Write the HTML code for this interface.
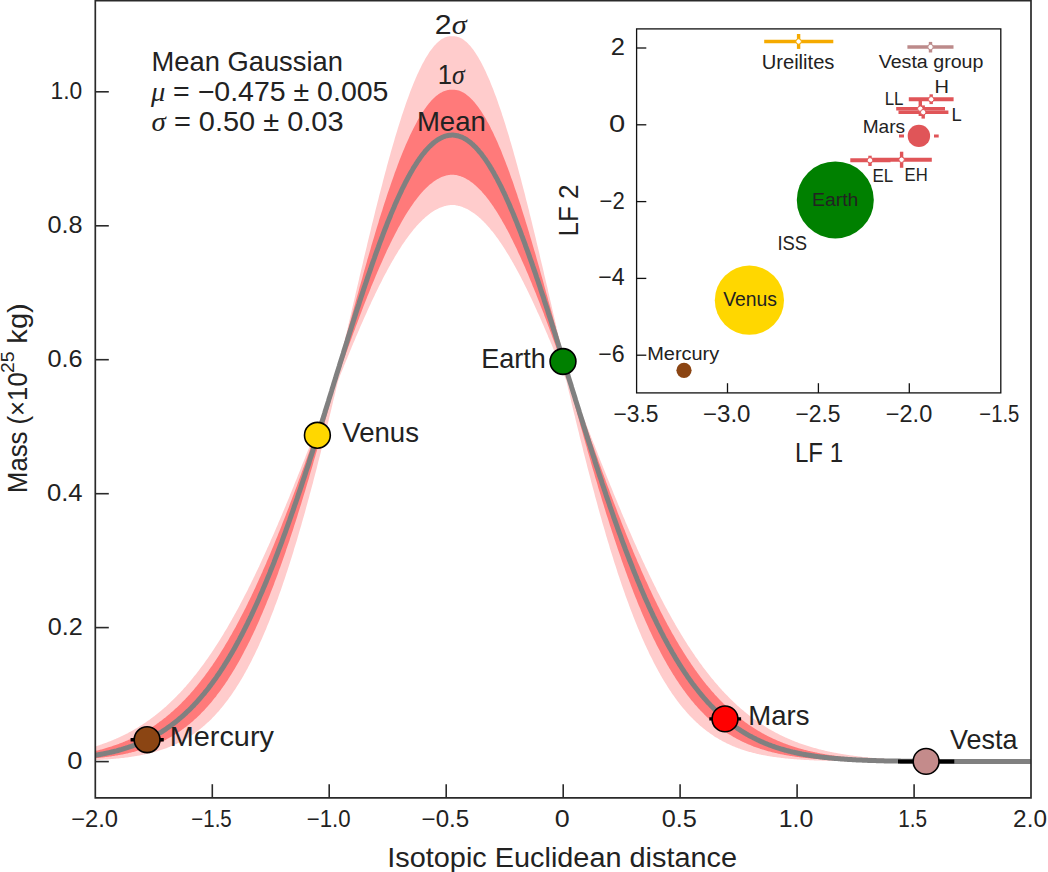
<!DOCTYPE html>
<html><head><meta charset="utf-8"><style>
html,body{margin:0;padding:0;background:#fff;width:1048px;height:872px;overflow:hidden}
svg text{font-family:"Liberation Sans", sans-serif}
</style></head><body>
<svg width="1048" height="872" viewBox="0 0 1048 872" style="display:block">
<rect width="1048" height="872" fill="#fff"/>
<defs><clipPath id="c"><rect x="95.3" y="0" width="935.7" height="797.7"/></clipPath></defs>
<g clip-path="url(#c)">
<path d="M95.3,746.4 L96.1,746.2 L96.9,745.9 L97.6,745.7 L98.4,745.4 L99.2,745.2 L100.0,744.9 L100.8,744.6 L101.5,744.4 L102.3,744.1 L103.1,743.8 L103.9,743.5 L104.7,743.3 L105.4,743.0 L106.2,742.7 L107.0,742.4 L107.8,742.1 L108.6,741.8 L109.3,741.5 L110.1,741.2 L110.9,740.9 L111.7,740.6 L112.5,740.3 L113.2,739.9 L114.0,739.6 L114.8,739.3 L115.6,738.9 L116.4,738.6 L117.1,738.3 L117.9,737.9 L118.7,737.6 L119.5,737.2 L120.3,736.8 L121.0,736.5 L121.8,736.1 L122.6,735.7 L123.4,735.3 L124.2,735.0 L124.9,734.6 L125.7,734.2 L126.5,733.8 L127.3,733.4 L128.1,733.0 L128.8,732.6 L129.6,732.1 L130.4,731.7 L131.2,731.3 L131.9,730.9 L132.7,730.4 L133.5,730.0 L134.3,729.5 L135.1,729.1 L135.8,728.6 L136.6,728.2 L137.4,727.7 L138.2,727.2 L139.0,726.7 L139.7,726.2 L140.5,725.7 L141.3,725.3 L142.1,724.7 L142.9,724.2 L143.6,723.7 L144.4,723.2 L145.2,722.7 L146.0,722.2 L146.8,721.6 L147.5,721.1 L148.3,720.5 L149.1,720.0 L149.9,719.4 L150.7,718.8 L151.4,718.3 L152.2,717.7 L153.0,717.1 L153.8,716.5 L154.6,715.9 L155.3,715.3 L156.1,714.7 L156.9,714.1 L157.7,713.5 L158.5,712.8 L159.2,712.2 L160.0,711.5 L160.8,710.9 L161.6,710.2 L162.4,709.6 L163.1,708.9 L163.9,708.2 L164.7,707.5 L165.5,706.9 L166.3,706.2 L167.0,705.5 L167.8,704.7 L168.6,704.0 L169.4,703.3 L170.2,702.6 L170.9,701.8 L171.7,701.1 L172.5,700.3 L173.3,699.6 L174.1,698.8 L174.8,698.0 L175.6,697.2 L176.4,696.4 L177.2,695.6 L178.0,694.8 L178.7,694.0 L179.5,693.2 L180.3,692.4 L181.1,691.5 L181.9,690.7 L182.6,689.9 L183.4,689.0 L184.2,688.1 L185.0,687.3 L185.8,686.4 L186.5,685.5 L187.3,684.6 L188.1,683.7 L188.9,682.8 L189.7,681.8 L190.4,680.9 L191.2,680.0 L192.0,679.0 L192.8,678.1 L193.6,677.1 L194.3,676.1 L195.1,675.2 L195.9,674.2 L196.7,673.2 L197.4,672.2 L198.2,671.2 L199.0,670.2 L199.8,669.1 L200.6,668.1 L201.3,667.1 L202.1,666.0 L202.9,664.9 L203.7,663.9 L204.5,662.8 L205.2,661.7 L206.0,660.6 L206.8,659.5 L207.6,658.4 L208.4,657.3 L209.1,656.2 L209.9,655.0 L210.7,653.9 L211.5,652.7 L212.3,651.6 L213.0,650.4 L213.8,649.2 L214.6,648.0 L215.4,646.8 L216.2,645.6 L216.9,644.4 L217.7,643.2 L218.5,642.0 L219.3,640.7 L220.1,639.5 L220.8,638.2 L221.6,637.0 L222.4,635.7 L223.2,634.4 L224.0,633.1 L224.7,631.8 L225.5,630.5 L226.3,629.2 L227.1,627.9 L227.9,626.5 L228.6,625.2 L229.4,623.8 L230.2,622.5 L231.0,621.1 L231.8,619.7 L232.5,618.3 L233.3,617.0 L234.1,615.6 L234.9,614.1 L235.7,612.7 L236.4,611.3 L237.2,609.9 L238.0,608.4 L238.8,607.0 L239.6,605.5 L240.3,604.0 L241.1,602.6 L241.9,601.1 L242.7,599.6 L243.5,598.1 L244.2,596.6 L245.0,595.0 L245.8,593.5 L246.6,592.0 L247.4,590.4 L248.1,588.9 L248.9,587.3 L249.7,585.8 L250.5,584.2 L251.3,582.6 L252.0,581.0 L252.8,579.4 L253.6,577.8 L254.4,576.2 L255.2,574.6 L255.9,572.9 L256.7,571.3 L257.5,569.7 L258.3,568.0 L259.1,566.4 L259.8,564.7 L260.6,563.0 L261.4,561.3 L262.2,559.6 L262.9,557.9 L263.7,556.2 L264.5,554.5 L265.3,552.8 L266.1,551.1 L266.8,549.4 L267.6,547.6 L268.4,545.9 L269.2,544.1 L270.0,542.4 L270.7,540.6 L271.5,538.8 L272.3,537.1 L273.1,535.3 L273.9,533.5 L274.6,531.7 L275.4,529.9 L276.2,528.1 L277.0,526.3 L277.8,524.4 L278.5,522.6 L279.3,520.8 L280.1,518.9 L280.9,517.1 L281.7,515.2 L282.4,513.4 L283.2,511.5 L284.0,509.7 L284.8,507.8 L285.6,505.9 L286.3,504.0 L287.1,502.2 L287.9,500.3 L288.7,498.4 L289.5,496.5 L290.2,494.6 L291.0,492.7 L291.8,490.8 L292.6,488.8 L293.4,486.9 L294.1,485.0 L294.9,483.1 L295.7,481.1 L296.5,479.2 L297.3,477.3 L298.0,475.3 L298.8,473.4 L299.6,471.4 L300.4,469.5 L301.2,467.5 L301.9,465.6 L302.7,463.6 L303.5,461.7 L304.3,459.7 L305.1,457.7 L305.8,455.8 L306.6,453.8 L307.4,451.8 L308.2,449.8 L309.0,447.9 L309.7,445.9 L310.5,443.9 L311.3,441.9 L312.1,439.9 L312.9,438.0 L313.6,436.0 L314.4,434.0 L315.2,432.0 L316.0,430.0 L316.8,428.0 L317.5,426.0 L318.3,424.1 L319.1,422.1 L319.9,420.0 L320.7,418.0 L321.4,415.9 L322.2,413.8 L323.0,411.7 L323.8,409.6 L324.6,407.4 L325.3,405.2 L326.1,403.0 L326.9,400.7 L327.7,398.4 L328.5,396.1 L329.2,393.8 L330.0,391.4 L330.8,389.0 L331.6,386.6 L332.3,384.1 L333.1,381.6 L333.9,379.1 L334.7,376.5 L335.5,373.9 L336.2,371.2 L337.0,368.6 L337.8,365.9 L338.6,363.1 L339.4,360.3 L340.1,357.5 L340.9,354.6 L341.7,351.7 L342.5,348.8 L343.3,345.8 L344.0,342.8 L344.8,339.7 L345.6,336.5 L346.4,333.4 L347.2,330.2 L347.9,326.9 L348.7,323.6 L349.5,320.2 L350.3,316.8 L351.1,313.5 L351.8,310.1 L352.6,306.7 L353.4,303.3 L354.2,300.0 L355.0,296.6 L355.7,293.3 L356.5,289.9 L357.3,286.5 L358.1,283.2 L358.9,279.8 L359.6,276.5 L360.4,273.2 L361.2,269.8 L362.0,266.5 L362.8,263.2 L363.5,259.9 L364.3,256.6 L365.1,253.3 L365.9,250.0 L366.7,246.8 L367.4,243.5 L368.2,240.2 L369.0,237.0 L369.8,233.8 L370.6,230.5 L371.3,227.3 L372.1,224.1 L372.9,220.9 L373.7,217.8 L374.5,214.6 L375.2,211.5 L376.0,208.3 L376.8,205.2 L377.6,202.1 L378.4,199.0 L379.1,196.0 L379.9,192.9 L380.7,189.9 L381.5,186.9 L382.3,183.9 L383.0,180.9 L383.8,177.9 L384.6,175.0 L385.4,172.1 L386.2,169.2 L386.9,166.3 L387.7,163.4 L388.5,160.6 L389.3,157.8 L390.1,155.0 L390.8,152.2 L391.6,149.5 L392.4,146.8 L393.2,144.1 L394.0,141.4 L394.7,138.7 L395.5,136.1 L396.3,133.5 L397.1,130.9 L397.8,128.4 L398.6,125.9 L399.4,123.4 L400.2,120.9 L401.0,118.5 L401.7,116.1 L402.5,113.7 L403.3,111.4 L404.1,109.0 L404.9,106.8 L405.6,104.5 L406.4,102.3 L407.2,100.1 L408.0,97.9 L408.8,95.8 L409.5,93.7 L410.3,91.6 L411.1,89.6 L411.9,87.6 L412.7,85.6 L413.4,83.7 L414.2,81.8 L415.0,80.0 L415.8,78.1 L416.6,76.3 L417.3,74.6 L418.1,72.9 L418.9,71.2 L419.7,69.5 L420.5,67.9 L421.2,66.4 L422.0,64.8 L422.8,63.3 L423.6,61.9 L424.4,60.5 L425.1,59.1 L425.9,57.7 L426.7,56.4 L427.5,55.2 L428.3,53.9 L429.0,52.7 L429.8,51.6 L430.6,50.5 L431.4,49.4 L432.2,48.4 L432.9,47.4 L433.7,46.5 L434.5,45.6 L435.3,44.7 L436.1,43.9 L436.8,43.1 L437.6,42.4 L438.4,41.7 L439.2,41.0 L440.0,40.4 L440.7,39.8 L441.5,39.3 L442.3,38.8 L443.1,38.4 L443.9,37.9 L444.6,37.6 L445.4,37.3 L446.2,37.0 L447.0,36.8 L447.8,36.6 L448.5,36.4 L449.3,36.3 L450.1,36.2 L450.9,36.2 L451.7,36.2 L452.4,36.2 L453.2,36.2 L454.0,36.2 L454.8,36.3 L455.6,36.4 L456.3,36.5 L457.1,36.7 L457.9,36.9 L458.7,37.2 L459.5,37.5 L460.2,37.8 L461.0,38.2 L461.8,38.6 L462.6,39.1 L463.3,39.6 L464.1,40.2 L464.9,40.8 L465.7,41.4 L466.5,42.1 L467.2,42.8 L468.0,43.6 L468.8,44.4 L469.6,45.2 L470.4,46.1 L471.1,47.0 L471.9,48.0 L472.7,49.0 L473.5,50.1 L474.3,51.2 L475.0,52.3 L475.8,53.5 L476.6,54.7 L477.4,55.9 L478.2,57.2 L478.9,58.6 L479.7,59.9 L480.5,61.3 L481.3,62.8 L482.1,64.3 L482.8,65.8 L483.6,67.3 L484.4,68.9 L485.2,70.6 L486.0,72.2 L486.7,73.9 L487.5,75.7 L488.3,77.5 L489.1,79.3 L489.9,81.1 L490.6,83.0 L491.4,84.9 L492.2,86.9 L493.0,88.8 L493.8,90.9 L494.5,92.9 L495.3,95.0 L496.1,97.1 L496.9,99.3 L497.7,101.5 L498.4,103.7 L499.2,105.9 L500.0,108.2 L500.8,110.5 L501.6,112.8 L502.3,115.2 L503.1,117.6 L503.9,120.0 L504.7,122.5 L505.5,124.9 L506.2,127.4 L507.0,130.0 L507.8,132.5 L508.6,135.1 L509.4,137.7 L510.1,140.4 L510.9,143.0 L511.7,145.7 L512.5,148.4 L513.3,151.2 L514.0,153.9 L514.8,156.7 L515.6,159.5 L516.4,162.4 L517.2,165.2 L517.9,168.1 L518.7,171.0 L519.5,173.9 L520.3,176.8 L521.1,179.8 L521.8,182.8 L522.6,185.7 L523.4,188.8 L524.2,191.8 L525.0,194.8 L525.7,197.9 L526.5,201.0 L527.3,204.1 L528.1,207.2 L528.9,210.3 L529.6,213.4 L530.4,216.6 L531.2,219.8 L532.0,222.9 L532.7,226.1 L533.5,229.3 L534.3,232.5 L535.1,235.8 L535.9,239.0 L536.6,242.3 L537.4,245.5 L538.2,248.8 L539.0,252.1 L539.8,255.4 L540.5,258.7 L541.3,262.0 L542.1,265.3 L542.9,268.6 L543.7,271.9 L544.4,275.2 L545.2,278.6 L546.0,281.9 L546.8,285.3 L547.6,288.6 L548.3,292.0 L549.1,295.3 L549.9,298.7 L550.7,302.1 L551.5,305.4 L552.2,308.8 L553.0,312.2 L553.8,315.6 L554.6,318.9 L555.4,322.3 L556.1,325.6 L556.9,328.9 L557.7,332.2 L558.5,335.4 L559.3,338.5 L560.0,341.6 L560.8,344.6 L561.6,347.7 L562.4,350.6 L563.2,353.5 L563.9,356.4 L564.7,359.3 L565.5,362.1 L566.3,364.8 L567.1,367.6 L567.8,370.2 L568.6,372.9 L569.4,375.5 L570.2,378.1 L571.0,380.6 L571.7,383.1 L572.5,385.6 L573.3,388.1 L574.1,390.5 L574.9,392.9 L575.6,395.2 L576.4,397.6 L577.2,399.9 L578.0,402.1 L578.8,404.4 L579.5,406.6 L580.3,408.7 L581.1,410.9 L581.9,413.0 L582.7,415.1 L583.4,417.2 L584.2,419.3 L585.0,421.3 L585.8,423.3 L586.6,425.3 L587.3,427.3 L588.1,429.3 L588.9,431.3 L589.7,433.2 L590.5,435.2 L591.2,437.2 L592.0,439.2 L592.8,441.2 L593.6,443.2 L594.4,445.1 L595.1,447.1 L595.9,449.1 L596.7,451.1 L597.5,453.0 L598.2,455.0 L599.0,457.0 L599.8,459.0 L600.6,460.9 L601.4,462.9 L602.1,464.8 L602.9,466.8 L603.7,468.8 L604.5,470.7 L605.3,472.7 L606.0,474.6 L606.8,476.5 L607.6,478.5 L608.4,480.4 L609.2,482.3 L609.9,484.3 L610.7,486.2 L611.5,488.1 L612.3,490.0 L613.1,492.0 L613.8,493.9 L614.6,495.8 L615.4,497.7 L616.2,499.6 L617.0,501.5 L617.7,503.3 L618.5,505.2 L619.3,507.1 L620.1,509.0 L620.9,510.8 L621.6,512.7 L622.4,514.6 L623.2,516.4 L624.0,518.2 L624.8,520.1 L625.5,521.9 L626.3,523.7 L627.1,525.6 L627.9,527.4 L628.7,529.2 L629.4,531.0 L630.2,532.8 L631.0,534.6 L631.8,536.4 L632.6,538.2 L633.3,539.9 L634.1,541.7 L634.9,543.5 L635.7,545.2 L636.5,547.0 L637.2,548.7 L638.0,550.4 L638.8,552.2 L639.6,553.9 L640.4,555.6 L641.1,557.3 L641.9,559.0 L642.7,560.7 L643.5,562.4 L644.3,564.1 L645.0,565.7 L645.8,567.4 L646.6,569.0 L647.4,570.7 L648.2,572.3 L648.9,574.0 L649.7,575.6 L650.5,577.2 L651.3,578.8 L652.1,580.4 L652.8,582.0 L653.6,583.6 L654.4,585.2 L655.2,586.7 L656.0,588.3 L656.7,589.9 L657.5,591.4 L658.3,592.9 L659.1,594.5 L659.9,596.0 L660.6,597.5 L661.4,599.0 L662.2,600.5 L663.0,602.0 L663.7,603.5 L664.5,604.9 L665.3,606.4 L666.1,607.9 L666.9,609.3 L667.6,610.8 L668.4,612.2 L669.2,613.6 L670.0,615.0 L670.8,616.4 L671.5,617.8 L672.3,619.2 L673.1,620.6 L673.9,622.0 L674.7,623.3 L675.4,624.7 L676.2,626.0 L677.0,627.4 L677.8,628.7 L678.6,630.0 L679.3,631.3 L680.1,632.6 L680.9,633.9 L681.7,635.2 L682.5,636.5 L683.2,637.7 L684.0,639.0 L684.8,640.3 L685.6,641.5 L686.4,642.7 L687.1,644.0 L687.9,645.2 L688.7,646.4 L689.5,647.6 L690.3,648.8 L691.0,649.9 L691.8,651.1 L692.6,652.3 L693.4,653.4 L694.2,654.6 L694.9,655.7 L695.7,656.9 L696.5,658.0 L697.3,659.1 L698.1,660.2 L698.8,661.3 L699.6,662.4 L700.4,663.5 L701.2,664.5 L702.0,665.6 L702.7,666.7 L703.5,667.7 L704.3,668.7 L705.1,669.8 L705.9,670.8 L706.6,671.8 L707.4,672.8 L708.2,673.8 L709.0,674.8 L709.8,675.8 L710.5,676.8 L711.3,677.7 L712.1,678.7 L712.9,679.6 L713.7,680.6 L714.4,681.5 L715.2,682.4 L716.0,683.3 L716.8,684.2 L717.6,685.1 L718.3,686.0 L719.1,686.9 L719.9,687.8 L720.7,688.7 L721.5,689.5 L722.2,690.4 L723.0,691.2 L723.8,692.1 L724.6,692.9 L725.4,693.7 L726.1,694.5 L726.9,695.3 L727.7,696.1 L728.5,696.9 L729.3,697.7 L730.0,698.5 L730.8,699.3 L731.6,700.0 L732.4,700.8 L733.1,701.5 L733.9,702.3 L734.7,703.0 L735.5,703.8 L736.3,704.5 L737.0,705.2 L737.8,705.9 L738.6,706.6 L739.4,707.3 L740.2,708.0 L740.9,708.7 L741.7,709.3 L742.5,710.0 L743.3,710.6 L744.1,711.3 L744.8,711.9 L745.6,712.6 L746.4,713.2 L747.2,713.8 L748.0,714.5 L748.7,715.1 L749.5,715.7 L750.3,716.3 L751.1,716.9 L751.9,717.5 L752.6,718.0 L753.4,718.6 L754.2,719.2 L755.0,719.8 L755.8,720.3 L756.5,720.9 L757.3,721.4 L758.1,721.9 L758.9,722.5 L759.7,723.0 L760.4,723.5 L761.2,724.0 L762.0,724.6 L762.8,725.1 L763.6,725.6 L764.3,726.1 L765.1,726.5 L765.9,727.0 L766.7,727.5 L767.5,728.0 L768.2,728.4 L769.0,728.9 L769.8,729.4 L770.6,729.8 L771.4,730.3 L772.1,730.7 L772.9,731.1 L773.7,731.6 L774.5,732.0 L775.3,732.4 L776.0,732.8 L776.8,733.2 L777.6,733.6 L778.4,734.0 L779.2,734.4 L779.9,734.8 L780.7,735.2 L781.5,735.6 L782.3,736.0 L783.1,736.3 L783.8,736.7 L784.6,737.1 L785.4,737.4 L786.2,737.8 L787.0,738.1 L787.7,738.5 L788.5,738.8 L789.3,739.1 L790.1,739.5 L790.9,739.8 L791.6,740.1 L792.4,740.5 L793.2,740.8 L794.0,741.1 L794.8,741.4 L795.5,741.7 L796.3,742.0 L797.1,742.3 L797.9,742.6 L798.6,742.9 L799.4,743.2 L800.2,743.4 L801.0,743.7 L801.8,744.0 L802.5,744.3 L803.3,744.5 L804.1,744.8 L804.9,745.1 L805.7,745.3 L806.4,745.6 L807.2,745.8 L808.0,746.1 L808.8,746.3 L809.6,746.5 L810.3,746.8 L811.1,747.0 L811.9,747.2 L812.7,747.5 L813.5,747.7 L814.2,747.9 L815.0,748.1 L815.8,748.3 L816.6,748.6 L817.4,748.8 L818.1,749.0 L818.9,749.2 L819.7,749.4 L820.5,749.6 L821.3,749.8 L822.0,750.0 L822.8,750.1 L823.6,750.3 L824.4,750.5 L825.2,750.7 L825.9,750.9 L826.7,751.1 L827.5,751.2 L828.3,751.4 L829.1,751.6 L829.8,751.7 L830.6,751.9 L831.4,752.1 L832.2,752.2 L833.0,752.4 L833.7,752.5 L834.5,752.7 L835.3,752.8 L836.1,753.0 L836.9,753.1 L837.6,753.3 L838.4,753.4 L839.2,753.5 L840.0,753.7 L840.8,753.8 L841.5,754.0 L842.3,754.1 L843.1,754.2 L843.9,754.3 L844.7,754.5 L845.4,754.6 L846.2,754.7 L847.0,754.8 L847.8,754.9 L848.6,755.1 L849.3,755.2 L850.1,755.3 L850.9,755.4 L851.7,755.5 L852.5,755.6 L853.2,755.7 L854.0,755.8 L854.8,755.9 L855.6,756.0 L856.4,756.1 L857.1,756.2 L857.9,756.3 L858.7,756.4 L859.5,756.5 L860.3,756.6 L861.0,756.7 L861.8,756.8 L862.6,756.9 L863.4,756.9 L864.1,757.0 L864.9,757.1 L865.7,757.2 L866.5,757.3 L867.3,757.3 L868.0,757.4 L868.8,757.5 L869.6,757.6 L870.4,757.7 L871.2,757.7 L871.9,757.8 L872.7,757.9 L873.5,757.9 L874.3,758.0 L875.1,758.1 L875.8,758.1 L876.6,758.2 L877.4,758.3 L878.2,758.3 L879.0,758.4 L879.7,758.4 L880.5,758.5 L881.3,758.6 L882.1,758.6 L882.9,758.7 L883.6,758.7 L884.4,758.8 L885.2,758.8 L886.0,758.9 L886.8,758.9 L887.5,759.0 L888.3,759.0 L889.1,759.1 L889.9,759.1 L890.7,759.2 L891.4,759.2 L892.2,759.3 L893.0,759.3 L893.8,759.4 L894.6,759.4 L895.3,759.5 L896.1,759.5 L896.9,759.5 L897.7,759.6 L898.5,759.6 L899.2,759.7 L900.0,759.7 L900.8,759.7 L901.6,759.8 L902.4,759.8 L903.1,759.8 L903.9,759.9 L904.7,759.9 L905.5,759.9 L906.3,760.0 L907.0,760.0 L907.8,760.0 L908.6,760.1 L909.4,760.1 L910.2,760.1 L910.9,760.2 L911.7,760.2 L912.5,760.2 L913.3,760.2 L914.1,760.3 L914.8,760.3 L915.6,760.3 L916.4,760.4 L917.2,760.4 L918.0,760.4 L918.7,760.4 L919.5,760.5 L920.3,760.5 L921.1,760.5 L921.9,760.5 L922.6,760.5 L923.4,760.6 L924.2,760.6 L925.0,760.6 L925.8,760.6 L926.5,760.6 L927.3,760.7 L928.1,760.7 L928.9,760.7 L929.7,760.7 L930.4,760.7 L931.2,760.8 L932.0,760.8 L932.8,760.8 L933.5,760.8 L934.3,760.8 L935.1,760.8 L935.9,760.9 L936.7,760.9 L937.4,760.9 L938.2,760.9 L939.0,760.9 L939.8,760.9 L940.6,761.0 L941.3,761.0 L942.1,761.0 L942.9,761.0 L943.7,761.0 L944.5,761.0 L945.2,761.0 L946.0,761.0 L946.8,761.1 L947.6,761.1 L948.4,761.1 L949.1,761.1 L949.9,761.1 L950.7,761.1 L951.5,761.1 L952.3,761.1 L953.0,761.1 L953.8,761.2 L954.6,761.2 L955.4,761.2 L956.2,761.2 L956.9,761.2 L957.7,761.2 L958.5,761.2 L959.3,761.2 L960.1,761.2 L960.8,761.2 L961.6,761.2 L962.4,761.3 L963.2,761.3 L964.0,761.3 L964.7,761.3 L965.5,761.3 L966.3,761.3 L967.1,761.3 L967.9,761.3 L968.6,761.3 L969.4,761.3 L970.2,761.3 L971.0,761.3 L971.8,761.3 L972.5,761.3 L973.3,761.3 L974.1,761.4 L974.9,761.4 L975.7,761.4 L976.4,761.4 L977.2,761.4 L978.0,761.4 L978.8,761.4 L979.6,761.4 L980.3,761.4 L981.1,761.4 L981.9,761.4 L982.7,761.4 L983.5,761.4 L984.2,761.4 L985.0,761.4 L985.8,761.4 L986.6,761.4 L987.4,761.4 L988.1,761.4 L988.9,761.4 L989.7,761.4 L990.5,761.4 L991.3,761.5 L992.0,761.5 L992.8,761.5 L993.6,761.5 L994.4,761.5 L995.2,761.5 L995.9,761.5 L996.7,761.5 L997.5,761.5 L998.3,761.5 L999.0,761.5 L999.8,761.5 L1000.6,761.5 L1001.4,761.5 L1002.2,761.5 L1002.9,761.5 L1003.7,761.5 L1004.5,761.5 L1005.3,761.5 L1006.1,761.5 L1006.8,761.5 L1007.6,761.5 L1008.4,761.5 L1009.2,761.5 L1010.0,761.5 L1010.7,761.5 L1011.5,761.5 L1012.3,761.5 L1013.1,761.5 L1013.9,761.5 L1014.6,761.5 L1015.4,761.5 L1016.2,761.5 L1017.0,761.5 L1017.8,761.5 L1018.5,761.5 L1019.3,761.5 L1020.1,761.5 L1020.9,761.5 L1021.7,761.5 L1022.4,761.5 L1023.2,761.5 L1024.0,761.5 L1024.8,761.5 L1025.6,761.6 L1026.3,761.6 L1027.1,761.6 L1027.9,761.6 L1028.7,761.6 L1029.5,761.6 L1030.2,761.6 L1031.0,761.6 L1031.0,761.6 L1030.2,761.6 L1029.5,761.6 L1028.7,761.6 L1027.9,761.6 L1027.1,761.6 L1026.3,761.6 L1025.6,761.6 L1024.8,761.6 L1024.0,761.6 L1023.2,761.6 L1022.4,761.6 L1021.7,761.6 L1020.9,761.6 L1020.1,761.6 L1019.3,761.6 L1018.5,761.6 L1017.8,761.6 L1017.0,761.6 L1016.2,761.6 L1015.4,761.6 L1014.6,761.6 L1013.9,761.6 L1013.1,761.6 L1012.3,761.6 L1011.5,761.6 L1010.7,761.6 L1010.0,761.6 L1009.2,761.6 L1008.4,761.6 L1007.6,761.6 L1006.8,761.6 L1006.1,761.6 L1005.3,761.6 L1004.5,761.6 L1003.7,761.6 L1002.9,761.6 L1002.2,761.6 L1001.4,761.6 L1000.6,761.6 L999.8,761.6 L999.0,761.6 L998.3,761.6 L997.5,761.6 L996.7,761.6 L995.9,761.6 L995.2,761.6 L994.4,761.6 L993.6,761.6 L992.8,761.6 L992.0,761.6 L991.3,761.6 L990.5,761.6 L989.7,761.6 L988.9,761.6 L988.1,761.6 L987.4,761.6 L986.6,761.6 L985.8,761.6 L985.0,761.6 L984.2,761.6 L983.5,761.6 L982.7,761.6 L981.9,761.6 L981.1,761.6 L980.3,761.6 L979.6,761.6 L978.8,761.6 L978.0,761.6 L977.2,761.6 L976.4,761.6 L975.7,761.6 L974.9,761.6 L974.1,761.6 L973.3,761.6 L972.5,761.6 L971.8,761.6 L971.0,761.6 L970.2,761.6 L969.4,761.6 L968.6,761.6 L967.9,761.6 L967.1,761.6 L966.3,761.6 L965.5,761.6 L964.7,761.6 L964.0,761.6 L963.2,761.6 L962.4,761.6 L961.6,761.6 L960.8,761.6 L960.1,761.6 L959.3,761.6 L958.5,761.6 L957.7,761.6 L956.9,761.6 L956.2,761.6 L955.4,761.6 L954.6,761.6 L953.8,761.6 L953.0,761.6 L952.3,761.6 L951.5,761.6 L950.7,761.6 L949.9,761.6 L949.1,761.6 L948.4,761.6 L947.6,761.6 L946.8,761.6 L946.0,761.6 L945.2,761.6 L944.5,761.6 L943.7,761.6 L942.9,761.6 L942.1,761.6 L941.3,761.6 L940.6,761.6 L939.8,761.6 L939.0,761.6 L938.2,761.6 L937.4,761.6 L936.7,761.6 L935.9,761.6 L935.1,761.6 L934.3,761.6 L933.5,761.6 L932.8,761.6 L932.0,761.6 L931.2,761.6 L930.4,761.6 L929.7,761.6 L928.9,761.6 L928.1,761.6 L927.3,761.6 L926.5,761.6 L925.8,761.6 L925.0,761.6 L924.2,761.6 L923.4,761.6 L922.6,761.6 L921.9,761.6 L921.1,761.6 L920.3,761.6 L919.5,761.6 L918.7,761.6 L918.0,761.6 L917.2,761.6 L916.4,761.6 L915.6,761.6 L914.8,761.6 L914.1,761.6 L913.3,761.6 L912.5,761.6 L911.7,761.6 L910.9,761.6 L910.2,761.6 L909.4,761.6 L908.6,761.6 L907.8,761.6 L907.0,761.6 L906.3,761.6 L905.5,761.6 L904.7,761.6 L903.9,761.6 L903.1,761.6 L902.4,761.6 L901.6,761.6 L900.8,761.6 L900.0,761.6 L899.2,761.6 L898.5,761.6 L897.7,761.6 L896.9,761.6 L896.1,761.6 L895.3,761.5 L894.6,761.5 L893.8,761.5 L893.0,761.5 L892.2,761.5 L891.4,761.5 L890.7,761.5 L889.9,761.5 L889.1,761.5 L888.3,761.5 L887.5,761.5 L886.8,761.5 L886.0,761.5 L885.2,761.5 L884.4,761.5 L883.6,761.5 L882.9,761.5 L882.1,761.5 L881.3,761.5 L880.5,761.5 L879.7,761.5 L879.0,761.5 L878.2,761.5 L877.4,761.5 L876.6,761.5 L875.8,761.5 L875.1,761.5 L874.3,761.5 L873.5,761.5 L872.7,761.5 L871.9,761.5 L871.2,761.5 L870.4,761.5 L869.6,761.4 L868.8,761.4 L868.0,761.4 L867.3,761.4 L866.5,761.4 L865.7,761.4 L864.9,761.4 L864.1,761.4 L863.4,761.4 L862.6,761.4 L861.8,761.4 L861.0,761.4 L860.3,761.4 L859.5,761.4 L858.7,761.4 L857.9,761.4 L857.1,761.4 L856.4,761.3 L855.6,761.3 L854.8,761.3 L854.0,761.3 L853.2,761.3 L852.5,761.3 L851.7,761.3 L850.9,761.3 L850.1,761.3 L849.3,761.3 L848.6,761.3 L847.8,761.2 L847.0,761.2 L846.2,761.2 L845.4,761.2 L844.7,761.2 L843.9,761.2 L843.1,761.2 L842.3,761.2 L841.5,761.1 L840.8,761.1 L840.0,761.1 L839.2,761.1 L838.4,761.1 L837.6,761.1 L836.9,761.1 L836.1,761.0 L835.3,761.0 L834.5,761.0 L833.7,761.0 L833.0,761.0 L832.2,761.0 L831.4,760.9 L830.6,760.9 L829.8,760.9 L829.1,760.9 L828.3,760.9 L827.5,760.8 L826.7,760.8 L825.9,760.8 L825.2,760.8 L824.4,760.7 L823.6,760.7 L822.8,760.7 L822.0,760.7 L821.3,760.6 L820.5,760.6 L819.7,760.6 L818.9,760.6 L818.1,760.5 L817.4,760.5 L816.6,760.5 L815.8,760.4 L815.0,760.4 L814.2,760.4 L813.5,760.3 L812.7,760.3 L811.9,760.3 L811.1,760.2 L810.3,760.2 L809.6,760.2 L808.8,760.1 L808.0,760.1 L807.2,760.0 L806.4,760.0 L805.7,759.9 L804.9,759.9 L804.1,759.9 L803.3,759.8 L802.5,759.8 L801.8,759.7 L801.0,759.7 L800.2,759.6 L799.4,759.6 L798.6,759.5 L797.9,759.5 L797.1,759.4 L796.3,759.3 L795.5,759.3 L794.8,759.2 L794.0,759.2 L793.2,759.1 L792.4,759.0 L791.6,759.0 L790.9,758.9 L790.1,758.8 L789.3,758.7 L788.5,758.7 L787.7,758.6 L787.0,758.5 L786.2,758.4 L785.4,758.4 L784.6,758.3 L783.8,758.2 L783.1,758.1 L782.3,758.0 L781.5,757.9 L780.7,757.8 L779.9,757.7 L779.2,757.6 L778.4,757.5 L777.6,757.4 L776.8,757.3 L776.0,757.2 L775.3,757.1 L774.5,757.0 L773.7,756.9 L772.9,756.8 L772.1,756.7 L771.4,756.5 L770.6,756.4 L769.8,756.3 L769.0,756.2 L768.2,756.0 L767.5,755.9 L766.7,755.8 L765.9,755.6 L765.1,755.5 L764.3,755.3 L763.6,755.2 L762.8,755.0 L762.0,754.9 L761.2,754.7 L760.4,754.5 L759.7,754.4 L758.9,754.2 L758.1,754.0 L757.3,753.9 L756.5,753.7 L755.8,753.5 L755.0,753.3 L754.2,753.1 L753.4,752.9 L752.6,752.7 L751.9,752.5 L751.1,752.3 L750.3,752.1 L749.5,751.9 L748.7,751.7 L748.0,751.4 L747.2,751.2 L746.4,751.0 L745.6,750.7 L744.8,750.5 L744.1,750.2 L743.3,750.0 L742.5,749.7 L741.7,749.5 L740.9,749.2 L740.2,748.9 L739.4,748.6 L738.6,748.4 L737.8,748.1 L737.0,747.8 L736.3,747.5 L735.5,747.2 L734.7,746.8 L733.9,746.5 L733.1,746.2 L732.4,745.9 L731.6,745.5 L730.8,745.2 L730.0,744.8 L729.3,744.5 L728.5,744.1 L727.7,743.8 L726.9,743.4 L726.1,743.0 L725.4,742.6 L724.6,742.2 L723.8,741.8 L723.0,741.4 L722.2,741.0 L721.5,740.5 L720.7,740.1 L719.9,739.7 L719.1,739.2 L718.3,738.8 L717.6,738.3 L716.8,737.8 L716.0,737.4 L715.2,736.9 L714.4,736.4 L713.7,735.9 L712.9,735.3 L712.1,734.8 L711.3,734.3 L710.5,733.7 L709.8,733.2 L709.0,732.6 L708.2,732.1 L707.4,731.5 L706.6,730.9 L705.9,730.3 L705.1,729.7 L704.3,729.1 L703.5,728.5 L702.7,727.8 L702.0,727.2 L701.2,726.5 L700.4,725.9 L699.6,725.2 L698.8,724.5 L698.1,723.8 L697.3,723.1 L696.5,722.4 L695.7,721.6 L694.9,720.9 L694.2,720.1 L693.4,719.4 L692.6,718.6 L691.8,717.8 L691.0,717.0 L690.3,716.2 L689.5,715.4 L688.7,714.5 L687.9,713.7 L687.1,712.8 L686.4,711.9 L685.6,711.0 L684.8,710.1 L684.0,709.2 L683.2,708.3 L682.5,707.4 L681.7,706.4 L680.9,705.4 L680.1,704.4 L679.3,703.5 L678.6,702.4 L677.8,701.4 L677.0,700.4 L676.2,699.3 L675.4,698.3 L674.7,697.2 L673.9,696.1 L673.1,695.0 L672.3,693.9 L671.5,692.7 L670.8,691.6 L670.0,690.4 L669.2,689.2 L668.4,688.0 L667.6,686.8 L666.9,685.6 L666.1,684.3 L665.3,683.1 L664.5,681.8 L663.7,680.5 L663.0,679.2 L662.2,677.9 L661.4,676.5 L660.6,675.2 L659.9,673.8 L659.1,672.4 L658.3,671.0 L657.5,669.6 L656.7,668.1 L656.0,666.7 L655.2,665.2 L654.4,663.7 L653.6,662.2 L652.8,660.6 L652.1,659.1 L651.3,657.5 L650.5,656.0 L649.7,654.4 L648.9,652.7 L648.2,651.1 L647.4,649.5 L646.6,647.8 L645.8,646.1 L645.0,644.4 L644.3,642.7 L643.5,640.9 L642.7,639.2 L641.9,637.4 L641.1,635.6 L640.4,633.8 L639.6,631.9 L638.8,630.1 L638.0,628.2 L637.2,626.3 L636.5,624.4 L635.7,622.5 L634.9,620.5 L634.1,618.5 L633.3,616.6 L632.6,614.6 L631.8,612.5 L631.0,610.5 L630.2,608.4 L629.4,606.3 L628.7,604.2 L627.9,602.1 L627.1,600.0 L626.3,597.8 L625.5,595.7 L624.8,593.5 L624.0,591.2 L623.2,589.0 L622.4,586.8 L621.6,584.5 L620.9,582.2 L620.1,579.9 L619.3,577.6 L618.5,575.2 L617.7,572.9 L617.0,570.5 L616.2,568.1 L615.4,565.6 L614.6,563.2 L613.8,560.7 L613.1,558.3 L612.3,555.8 L611.5,553.3 L610.7,550.7 L609.9,548.2 L609.2,545.6 L608.4,543.0 L607.6,540.4 L606.8,537.8 L606.0,535.2 L605.3,532.5 L604.5,529.8 L603.7,527.1 L602.9,524.4 L602.1,521.7 L601.4,518.9 L600.6,516.2 L599.8,513.4 L599.0,510.6 L598.2,507.8 L597.5,505.0 L596.7,502.1 L595.9,499.3 L595.1,496.4 L594.4,493.5 L593.6,490.6 L592.8,487.7 L592.0,484.7 L591.2,481.8 L590.5,478.8 L589.7,475.8 L588.9,472.8 L588.1,469.8 L587.3,466.8 L586.6,463.7 L585.8,460.7 L585.0,457.6 L584.2,454.5 L583.4,451.4 L582.7,448.3 L581.9,445.2 L581.1,442.1 L580.3,438.9 L579.5,435.8 L578.8,432.6 L578.0,429.4 L577.2,426.3 L576.4,423.1 L575.6,419.8 L574.9,416.6 L574.1,413.4 L573.3,410.2 L572.5,406.9 L571.7,403.7 L571.0,400.4 L570.2,397.1 L569.4,393.8 L568.6,390.5 L567.8,387.2 L567.1,383.9 L566.3,380.6 L565.5,378.7 L564.7,376.7 L563.9,374.8 L563.2,372.8 L562.4,370.9 L561.6,369.0 L560.8,367.0 L560.0,365.1 L559.3,363.2 L558.5,361.3 L557.7,359.4 L556.9,357.5 L556.1,355.6 L555.4,353.7 L554.6,351.8 L553.8,349.9 L553.0,348.0 L552.2,346.1 L551.5,344.3 L550.7,342.4 L549.9,340.6 L549.1,338.7 L548.3,336.9 L547.6,335.0 L546.8,333.2 L546.0,331.4 L545.2,329.6 L544.4,327.8 L543.7,326.0 L542.9,324.2 L542.1,322.4 L541.3,320.6 L540.5,318.8 L539.8,317.1 L539.0,315.3 L538.2,313.6 L537.4,311.9 L536.6,310.1 L535.9,308.4 L535.1,306.7 L534.3,305.0 L533.5,303.3 L532.7,301.6 L532.0,300.0 L531.2,298.3 L530.4,296.7 L529.6,295.0 L528.9,293.4 L528.1,291.8 L527.3,290.2 L526.5,288.6 L525.7,287.0 L525.0,285.4 L524.2,283.9 L523.4,282.3 L522.6,280.8 L521.8,279.3 L521.1,277.7 L520.3,276.2 L519.5,274.8 L518.7,273.3 L517.9,271.8 L517.2,270.4 L516.4,268.9 L515.6,267.5 L514.8,266.1 L514.0,264.7 L513.3,263.3 L512.5,261.9 L511.7,260.6 L510.9,259.2 L510.1,257.9 L509.4,256.6 L508.6,255.3 L507.8,254.0 L507.0,252.7 L506.2,251.4 L505.5,250.2 L504.7,248.9 L503.9,247.7 L503.1,246.5 L502.3,245.3 L501.6,244.2 L500.8,243.0 L500.0,241.9 L499.2,240.7 L498.4,239.6 L497.7,238.5 L496.9,237.5 L496.1,236.4 L495.3,235.3 L494.5,234.3 L493.8,233.3 L493.0,232.3 L492.2,231.3 L491.4,230.4 L490.6,229.4 L489.9,228.5 L489.1,227.6 L488.3,226.7 L487.5,225.8 L486.7,224.9 L486.0,224.1 L485.2,223.2 L484.4,222.4 L483.6,221.6 L482.8,220.9 L482.1,220.1 L481.3,219.4 L480.5,218.6 L479.7,217.9 L478.9,217.2 L478.2,216.6 L477.4,215.9 L476.6,215.3 L475.8,214.7 L475.0,214.1 L474.3,213.5 L473.5,212.9 L472.7,212.4 L471.9,211.9 L471.1,211.4 L470.4,210.9 L469.6,210.4 L468.8,210.0 L468.0,209.5 L467.2,209.1 L466.5,208.7 L465.7,208.4 L464.9,208.0 L464.1,207.7 L463.3,207.4 L462.6,207.1 L461.8,206.8 L461.0,206.5 L460.2,206.3 L459.5,206.1 L458.7,205.9 L457.9,205.7 L457.1,205.5 L456.3,205.4 L455.6,205.2 L454.8,205.1 L454.0,205.0 L453.2,205.0 L452.4,204.9 L451.7,204.9 L450.9,205.0 L450.1,205.1 L449.3,205.2 L448.5,205.3 L447.8,205.4 L447.0,205.6 L446.2,205.7 L445.4,205.9 L444.6,206.1 L443.9,206.4 L443.1,206.6 L442.3,206.9 L441.5,207.2 L440.7,207.5 L440.0,207.8 L439.2,208.1 L438.4,208.5 L437.6,208.9 L436.8,209.3 L436.1,209.7 L435.3,210.1 L434.5,210.6 L433.7,211.1 L432.9,211.6 L432.2,212.1 L431.4,212.6 L430.6,213.1 L429.8,213.7 L429.0,214.3 L428.3,214.9 L427.5,215.5 L426.7,216.2 L425.9,216.8 L425.1,217.5 L424.4,218.2 L423.6,218.9 L422.8,219.6 L422.0,220.4 L421.2,221.2 L420.5,221.9 L419.7,222.7 L418.9,223.6 L418.1,224.4 L417.3,225.2 L416.6,226.1 L415.8,227.0 L415.0,227.9 L414.2,228.8 L413.4,229.8 L412.7,230.7 L411.9,231.7 L411.1,232.7 L410.3,233.7 L409.5,234.7 L408.8,235.7 L408.0,236.8 L407.2,237.9 L406.4,238.9 L405.6,240.0 L404.9,241.2 L404.1,242.3 L403.3,243.4 L402.5,244.6 L401.7,245.8 L401.0,247.0 L400.2,248.2 L399.4,249.4 L398.6,250.6 L397.8,251.9 L397.1,253.2 L396.3,254.5 L395.5,255.7 L394.7,257.1 L394.0,258.4 L393.2,259.7 L392.4,261.1 L391.6,262.4 L390.8,263.8 L390.1,265.2 L389.3,266.6 L388.5,268.0 L387.7,269.5 L386.9,270.9 L386.2,272.4 L385.4,273.8 L384.6,275.3 L383.8,276.8 L383.0,278.3 L382.3,279.8 L381.5,281.4 L380.7,282.9 L379.9,284.5 L379.1,286.0 L378.4,287.6 L377.6,289.2 L376.8,290.8 L376.0,292.4 L375.2,294.0 L374.5,295.7 L373.7,297.3 L372.9,298.9 L372.1,300.6 L371.3,302.3 L370.6,304.0 L369.8,305.6 L369.0,307.3 L368.2,309.1 L367.4,310.8 L366.7,312.5 L365.9,314.2 L365.1,316.0 L364.3,317.7 L363.5,319.5 L362.8,321.3 L362.0,323.1 L361.2,324.8 L360.4,326.6 L359.6,328.4 L358.9,330.2 L358.1,332.1 L357.3,333.9 L356.5,335.7 L355.7,337.6 L355.0,339.4 L354.2,341.3 L353.4,343.1 L352.6,345.0 L351.8,346.8 L351.1,348.7 L350.3,350.6 L349.5,352.5 L348.7,354.4 L347.9,356.3 L347.2,358.2 L346.4,360.1 L345.6,362.0 L344.8,363.9 L344.0,365.8 L343.3,367.8 L342.5,369.7 L341.7,371.6 L340.9,373.6 L340.1,375.5 L339.4,377.5 L338.6,379.4 L337.8,381.9 L337.0,385.2 L336.2,388.5 L335.5,391.8 L334.7,395.1 L333.9,398.3 L333.1,401.6 L332.3,404.9 L331.6,408.1 L330.8,411.4 L330.0,414.6 L329.2,417.8 L328.5,421.1 L327.7,424.3 L326.9,427.5 L326.1,430.6 L325.3,433.8 L324.6,437.0 L323.8,440.1 L323.0,443.3 L322.2,446.4 L321.4,449.5 L320.7,452.6 L319.9,455.7 L319.1,458.8 L318.3,461.8 L317.5,464.9 L316.8,467.9 L316.0,470.9 L315.2,473.9 L314.4,476.9 L313.6,479.9 L312.9,482.9 L312.1,485.8 L311.3,488.8 L310.5,491.7 L309.7,494.6 L309.0,497.5 L308.2,500.3 L307.4,503.2 L306.6,506.0 L305.8,508.9 L305.1,511.7 L304.3,514.5 L303.5,517.2 L302.7,520.0 L301.9,522.7 L301.2,525.4 L300.4,528.1 L299.6,530.8 L298.8,533.5 L298.0,536.2 L297.3,538.8 L296.5,541.4 L295.7,544.0 L294.9,546.6 L294.1,549.1 L293.4,551.7 L292.6,554.2 L291.8,556.7 L291.0,559.2 L290.2,561.7 L289.5,564.1 L288.7,566.6 L287.9,569.0 L287.1,571.4 L286.3,573.8 L285.6,576.1 L284.8,578.4 L284.0,580.8 L283.2,583.1 L282.4,585.4 L281.7,587.6 L280.9,589.9 L280.1,592.1 L279.3,594.3 L278.5,596.5 L277.8,598.7 L277.0,600.8 L276.2,602.9 L275.4,605.0 L274.6,607.1 L273.9,609.2 L273.1,611.3 L272.3,613.3 L271.5,615.3 L270.7,617.3 L270.0,619.3 L269.2,621.3 L268.4,623.2 L267.6,625.1 L266.8,627.0 L266.1,628.9 L265.3,630.8 L264.5,632.6 L263.7,634.4 L262.9,636.3 L262.2,638.0 L261.4,639.8 L260.6,641.6 L259.8,643.3 L259.1,645.0 L258.3,646.7 L257.5,648.4 L256.7,650.1 L255.9,651.7 L255.2,653.3 L254.4,655.0 L253.6,656.6 L252.8,658.1 L252.0,659.7 L251.3,661.2 L250.5,662.7 L249.7,664.2 L248.9,665.7 L248.1,667.2 L247.4,668.7 L246.6,670.1 L245.8,671.5 L245.0,672.9 L244.2,674.3 L243.5,675.7 L242.7,677.0 L241.9,678.4 L241.1,679.7 L240.3,681.0 L239.6,682.3 L238.8,683.5 L238.0,684.8 L237.2,686.0 L236.4,687.3 L235.7,688.5 L234.9,689.7 L234.1,690.8 L233.3,692.0 L232.5,693.2 L231.8,694.3 L231.0,695.4 L230.2,696.5 L229.4,697.6 L228.6,698.7 L227.9,699.7 L227.1,700.8 L226.3,701.8 L225.5,702.8 L224.7,703.8 L224.0,704.8 L223.2,705.8 L222.4,706.8 L221.6,707.7 L220.8,708.6 L220.1,709.6 L219.3,710.5 L218.5,711.4 L217.7,712.3 L216.9,713.1 L216.2,714.0 L215.4,714.8 L214.6,715.7 L213.8,716.5 L213.0,717.3 L212.3,718.1 L211.5,718.9 L210.7,719.7 L209.9,720.4 L209.1,721.2 L208.4,721.9 L207.6,722.6 L206.8,723.3 L206.0,724.1 L205.2,724.7 L204.5,725.4 L203.7,726.1 L202.9,726.8 L202.1,727.4 L201.3,728.1 L200.6,728.7 L199.8,729.3 L199.0,729.9 L198.2,730.5 L197.4,731.1 L196.7,731.7 L195.9,732.3 L195.1,732.9 L194.3,733.4 L193.6,734.0 L192.8,734.5 L192.0,735.0 L191.2,735.5 L190.4,736.1 L189.7,736.6 L188.9,737.0 L188.1,737.5 L187.3,738.0 L186.5,738.5 L185.8,738.9 L185.0,739.4 L184.2,739.8 L183.4,740.3 L182.6,740.7 L181.9,741.1 L181.1,741.5 L180.3,742.0 L179.5,742.4 L178.7,742.8 L178.0,743.1 L177.2,743.5 L176.4,743.9 L175.6,744.3 L174.8,744.6 L174.1,745.0 L173.3,745.3 L172.5,745.7 L171.7,746.0 L170.9,746.3 L170.2,746.6 L169.4,747.0 L168.6,747.3 L167.8,747.6 L167.0,747.9 L166.3,748.2 L165.5,748.5 L164.7,748.7 L163.9,749.0 L163.1,749.3 L162.4,749.6 L161.6,749.8 L160.8,750.1 L160.0,750.3 L159.2,750.6 L158.5,750.8 L157.7,751.1 L156.9,751.3 L156.1,751.5 L155.3,751.7 L154.6,752.0 L153.8,752.2 L153.0,752.4 L152.2,752.6 L151.4,752.8 L150.7,753.0 L149.9,753.2 L149.1,753.4 L148.3,753.6 L147.5,753.7 L146.8,753.9 L146.0,754.1 L145.2,754.3 L144.4,754.4 L143.6,754.6 L142.9,754.8 L142.1,754.9 L141.3,755.1 L140.5,755.2 L139.7,755.4 L139.0,755.5 L138.2,755.7 L137.4,755.8 L136.6,755.9 L135.8,756.1 L135.1,756.2 L134.3,756.3 L133.5,756.5 L132.7,756.6 L131.9,756.7 L131.2,756.8 L130.4,756.9 L129.6,757.1 L128.8,757.2 L128.1,757.3 L127.3,757.4 L126.5,757.5 L125.7,757.6 L124.9,757.7 L124.2,757.8 L123.4,757.9 L122.6,758.0 L121.8,758.0 L121.0,758.1 L120.3,758.2 L119.5,758.3 L118.7,758.4 L117.9,758.5 L117.1,758.5 L116.4,758.6 L115.6,758.7 L114.8,758.8 L114.0,758.8 L113.2,758.9 L112.5,759.0 L111.7,759.0 L110.9,759.1 L110.1,759.2 L109.3,759.2 L108.6,759.3 L107.8,759.4 L107.0,759.4 L106.2,759.5 L105.4,759.5 L104.7,759.6 L103.9,759.6 L103.1,759.7 L102.3,759.7 L101.5,759.8 L100.8,759.8 L100.0,759.9 L99.2,759.9 L98.4,760.0 L97.6,760.0 L96.9,760.1 L96.1,760.1 L95.3,760.1Z" fill="#ffcccc"/>
<path d="M95.3,751.0 L96.1,750.8 L96.9,750.6 L97.6,750.4 L98.4,750.2 L99.2,750.0 L100.0,749.8 L100.8,749.6 L101.5,749.4 L102.3,749.2 L103.1,748.9 L103.9,748.7 L104.7,748.5 L105.4,748.3 L106.2,748.1 L107.0,747.8 L107.8,747.6 L108.6,747.3 L109.3,747.1 L110.1,746.9 L110.9,746.6 L111.7,746.4 L112.5,746.1 L113.2,745.8 L114.0,745.6 L114.8,745.3 L115.6,745.0 L116.4,744.8 L117.1,744.5 L117.9,744.2 L118.7,743.9 L119.5,743.6 L120.3,743.3 L121.0,743.0 L121.8,742.7 L122.6,742.4 L123.4,742.1 L124.2,741.8 L124.9,741.4 L125.7,741.1 L126.5,740.8 L127.3,740.4 L128.1,740.1 L128.8,739.8 L129.6,739.4 L130.4,739.1 L131.2,738.7 L131.9,738.3 L132.7,738.0 L133.5,737.6 L134.3,737.2 L135.1,736.8 L135.8,736.4 L136.6,736.0 L137.4,735.6 L138.2,735.2 L139.0,734.8 L139.7,734.4 L140.5,734.0 L141.3,733.6 L142.1,733.1 L142.9,732.7 L143.6,732.2 L144.4,731.8 L145.2,731.3 L146.0,730.9 L146.8,730.4 L147.5,729.9 L148.3,729.5 L149.1,729.0 L149.9,728.5 L150.7,728.0 L151.4,727.5 L152.2,727.0 L153.0,726.5 L153.8,726.0 L154.6,725.4 L155.3,724.9 L156.1,724.4 L156.9,723.8 L157.7,723.3 L158.5,722.7 L159.2,722.1 L160.0,721.6 L160.8,721.0 L161.6,720.4 L162.4,719.8 L163.1,719.2 L163.9,718.6 L164.7,718.0 L165.5,717.4 L166.3,716.7 L167.0,716.1 L167.8,715.5 L168.6,714.8 L169.4,714.2 L170.2,713.5 L170.9,712.8 L171.7,712.1 L172.5,711.5 L173.3,710.8 L174.1,710.1 L174.8,709.3 L175.6,708.6 L176.4,707.9 L177.2,707.2 L178.0,706.4 L178.7,705.7 L179.5,704.9 L180.3,704.2 L181.1,703.4 L181.9,702.6 L182.6,701.8 L183.4,701.0 L184.2,700.2 L185.0,699.4 L185.8,698.6 L186.5,697.8 L187.3,696.9 L188.1,696.1 L188.9,695.2 L189.7,694.4 L190.4,693.5 L191.2,692.6 L192.0,691.7 L192.8,690.8 L193.6,689.9 L194.3,689.0 L195.1,688.1 L195.9,687.1 L196.7,686.2 L197.4,685.2 L198.2,684.3 L199.0,683.3 L199.8,682.3 L200.6,681.3 L201.3,680.3 L202.1,679.3 L202.9,678.3 L203.7,677.3 L204.5,676.2 L205.2,675.2 L206.0,674.1 L206.8,673.1 L207.6,672.0 L208.4,670.9 L209.1,669.8 L209.9,668.7 L210.7,667.6 L211.5,666.5 L212.3,665.4 L213.0,664.2 L213.8,663.1 L214.6,661.9 L215.4,660.7 L216.2,659.6 L216.9,658.4 L217.7,657.2 L218.5,656.0 L219.3,654.8 L220.1,653.5 L220.8,652.3 L221.6,651.0 L222.4,649.8 L223.2,648.5 L224.0,647.2 L224.7,645.9 L225.5,644.6 L226.3,643.3 L227.1,642.0 L227.9,640.7 L228.6,639.4 L229.4,638.0 L230.2,636.6 L231.0,635.3 L231.8,633.9 L232.5,632.5 L233.3,631.1 L234.1,629.7 L234.9,628.3 L235.7,626.9 L236.4,625.4 L237.2,624.0 L238.0,622.5 L238.8,621.0 L239.6,619.6 L240.3,618.1 L241.1,616.6 L241.9,615.1 L242.7,613.5 L243.5,612.0 L244.2,610.5 L245.0,608.9 L245.8,607.4 L246.6,605.8 L247.4,604.2 L248.1,602.6 L248.9,601.0 L249.7,599.4 L250.5,597.8 L251.3,596.2 L252.0,594.5 L252.8,592.9 L253.6,591.2 L254.4,589.6 L255.2,587.9 L255.9,586.2 L256.7,584.5 L257.5,582.8 L258.3,581.1 L259.1,579.3 L259.8,577.6 L260.6,575.9 L261.4,574.1 L262.2,572.4 L262.9,570.6 L263.7,568.8 L264.5,567.0 L265.3,565.2 L266.1,563.4 L266.8,561.6 L267.6,559.8 L268.4,557.9 L269.2,556.1 L270.0,554.2 L270.7,552.4 L271.5,550.5 L272.3,548.6 L273.1,546.7 L273.9,544.8 L274.6,542.9 L275.4,541.0 L276.2,539.1 L277.0,537.2 L277.8,535.3 L278.5,533.3 L279.3,531.4 L280.1,529.4 L280.9,527.4 L281.7,525.5 L282.4,523.5 L283.2,521.5 L284.0,519.5 L284.8,517.5 L285.6,515.5 L286.3,513.5 L287.1,511.4 L287.9,509.4 L288.7,507.4 L289.5,505.3 L290.2,503.3 L291.0,501.2 L291.8,499.2 L292.6,497.1 L293.4,495.0 L294.1,492.9 L294.9,490.9 L295.7,488.8 L296.5,486.7 L297.3,484.6 L298.0,482.5 L298.8,480.3 L299.6,478.2 L300.4,476.1 L301.2,474.0 L301.9,471.8 L302.7,469.7 L303.5,467.5 L304.3,465.4 L305.1,463.3 L305.8,461.1 L306.6,458.9 L307.4,456.8 L308.2,454.6 L309.0,452.4 L309.7,450.3 L310.5,448.1 L311.3,445.9 L312.1,443.7 L312.9,441.5 L313.6,439.3 L314.4,437.2 L315.2,435.0 L316.0,432.8 L316.8,430.6 L317.5,428.4 L318.3,426.2 L319.1,424.0 L319.9,421.8 L320.7,419.6 L321.4,417.4 L322.2,415.1 L323.0,412.9 L323.8,410.7 L324.6,408.5 L325.3,406.3 L326.1,404.1 L326.9,401.9 L327.7,399.6 L328.5,397.3 L329.2,395.0 L330.0,392.6 L330.8,390.2 L331.6,387.8 L332.3,385.3 L333.1,382.9 L333.9,380.3 L334.7,377.8 L335.5,375.2 L336.2,372.6 L337.0,369.9 L337.8,367.2 L338.6,364.5 L339.4,361.7 L340.1,358.9 L340.9,356.1 L341.7,353.2 L342.5,350.3 L343.3,347.4 L344.0,344.5 L344.8,341.6 L345.6,338.7 L346.4,335.9 L347.2,333.0 L347.9,330.1 L348.7,327.2 L349.5,324.3 L350.3,321.4 L351.1,318.6 L351.8,315.7 L352.6,312.8 L353.4,310.0 L354.2,307.1 L355.0,304.3 L355.7,301.4 L356.5,298.6 L357.3,295.7 L358.1,292.9 L358.9,290.1 L359.6,287.3 L360.4,284.5 L361.2,281.7 L362.0,278.9 L362.8,276.1 L363.5,273.3 L364.3,270.6 L365.1,267.8 L365.9,265.1 L366.7,262.3 L367.4,259.6 L368.2,256.9 L369.0,254.2 L369.8,251.5 L370.6,248.8 L371.3,246.1 L372.1,243.5 L372.9,240.8 L373.7,238.2 L374.5,235.6 L375.2,232.9 L376.0,230.4 L376.8,227.8 L377.6,225.2 L378.4,222.7 L379.1,220.1 L379.9,217.6 L380.7,215.1 L381.5,212.6 L382.3,210.2 L383.0,207.7 L383.8,205.3 L384.6,202.8 L385.4,200.4 L386.2,198.1 L386.9,195.7 L387.7,193.3 L388.5,191.0 L389.3,188.7 L390.1,186.4 L390.8,184.2 L391.6,181.9 L392.4,179.7 L393.2,177.5 L394.0,175.3 L394.7,173.1 L395.5,171.0 L396.3,168.9 L397.1,166.8 L397.8,164.7 L398.6,162.7 L399.4,160.6 L400.2,158.6 L401.0,156.6 L401.7,154.7 L402.5,152.8 L403.3,150.8 L404.1,149.0 L404.9,147.1 L405.6,145.3 L406.4,143.5 L407.2,141.7 L408.0,139.9 L408.8,138.2 L409.5,136.5 L410.3,134.8 L411.1,133.2 L411.9,131.6 L412.7,130.0 L413.4,128.4 L414.2,126.9 L415.0,125.4 L415.8,123.9 L416.6,122.4 L417.3,121.0 L418.1,119.6 L418.9,118.3 L419.7,116.9 L420.5,115.6 L421.2,114.4 L422.0,113.1 L422.8,111.9 L423.6,110.7 L424.4,109.6 L425.1,108.5 L425.9,107.4 L426.7,106.3 L427.5,105.3 L428.3,104.3 L429.0,103.3 L429.8,102.4 L430.6,101.5 L431.4,100.6 L432.2,99.8 L432.9,99.0 L433.7,98.2 L434.5,97.5 L435.3,96.8 L436.1,96.1 L436.8,95.5 L437.6,94.9 L438.4,94.3 L439.2,93.8 L440.0,93.3 L440.7,92.8 L441.5,92.4 L442.3,91.9 L443.1,91.6 L443.9,91.2 L444.6,90.9 L445.4,90.7 L446.2,90.4 L447.0,90.2 L447.8,90.1 L448.5,89.9 L449.3,89.8 L450.1,89.7 L450.9,89.7 L451.7,89.7 L452.4,89.7 L453.2,89.7 L454.0,89.7 L454.8,89.8 L455.6,89.9 L456.3,90.0 L457.1,90.2 L457.9,90.3 L458.7,90.6 L459.5,90.8 L460.2,91.1 L461.0,91.4 L461.8,91.8 L462.6,92.2 L463.3,92.6 L464.1,93.1 L464.9,93.6 L465.7,94.1 L466.5,94.7 L467.2,95.3 L468.0,95.9 L468.8,96.5 L469.6,97.2 L470.4,98.0 L471.1,98.7 L471.9,99.5 L472.7,100.3 L473.5,101.2 L474.3,102.1 L475.0,103.0 L475.8,103.9 L476.6,104.9 L477.4,105.9 L478.2,107.0 L478.9,108.0 L479.7,109.2 L480.5,110.3 L481.3,111.5 L482.1,112.7 L482.8,113.9 L483.6,115.2 L484.4,116.4 L485.2,117.8 L486.0,119.1 L486.7,120.5 L487.5,121.9 L488.3,123.3 L489.1,124.8 L489.9,126.3 L490.6,127.8 L491.4,129.4 L492.2,131.0 L493.0,132.6 L493.8,134.2 L494.5,135.9 L495.3,137.6 L496.1,139.3 L496.9,141.0 L497.7,142.8 L498.4,144.6 L499.2,146.4 L500.0,148.3 L500.8,150.1 L501.6,152.0 L502.3,154.0 L503.1,155.9 L503.9,157.9 L504.7,159.9 L505.5,161.9 L506.2,163.9 L507.0,166.0 L507.8,168.1 L508.6,170.2 L509.4,172.3 L510.1,174.5 L510.9,176.7 L511.7,178.9 L512.5,181.1 L513.3,183.3 L514.0,185.6 L514.8,187.9 L515.6,190.2 L516.4,192.5 L517.2,194.8 L517.9,197.2 L518.7,199.5 L519.5,201.9 L520.3,204.3 L521.1,206.8 L521.8,209.2 L522.6,211.7 L523.4,214.2 L524.2,216.7 L525.0,219.2 L525.7,221.7 L526.5,224.2 L527.3,226.8 L528.1,229.4 L528.9,232.0 L529.6,234.6 L530.4,237.2 L531.2,239.8 L532.0,242.5 L532.7,245.1 L533.5,247.8 L534.3,250.5 L535.1,253.1 L535.9,255.8 L536.6,258.6 L537.4,261.3 L538.2,264.0 L539.0,266.8 L539.8,269.5 L540.5,272.3 L541.3,275.1 L542.1,277.8 L542.9,280.6 L543.7,283.4 L544.4,286.2 L545.2,289.0 L546.0,291.9 L546.8,294.7 L547.6,297.5 L548.3,300.4 L549.1,303.2 L549.9,306.0 L550.7,308.9 L551.5,311.8 L552.2,314.6 L553.0,317.5 L553.8,320.4 L554.6,323.2 L555.4,326.1 L556.1,329.0 L556.9,331.9 L557.7,334.8 L558.5,337.7 L559.3,340.5 L560.0,343.4 L560.8,346.3 L561.6,349.2 L562.4,352.1 L563.2,355.0 L563.9,357.9 L564.7,360.7 L565.5,363.5 L566.3,366.2 L567.1,368.9 L567.8,371.6 L568.6,374.2 L569.4,376.8 L570.2,379.4 L571.0,381.9 L571.7,384.4 L572.5,386.9 L573.3,389.3 L574.1,391.7 L574.9,394.1 L575.6,396.4 L576.4,398.7 L577.2,401.0 L578.0,403.3 L578.8,405.5 L579.5,407.7 L580.3,409.9 L581.1,412.1 L581.9,414.3 L582.7,416.5 L583.4,418.7 L584.2,420.9 L585.0,423.1 L585.8,425.3 L586.6,427.5 L587.3,429.7 L588.1,431.9 L588.9,434.1 L589.7,436.3 L590.5,438.5 L591.2,440.7 L592.0,442.9 L592.8,445.1 L593.6,447.3 L594.4,449.4 L595.1,451.6 L595.9,453.8 L596.7,456.0 L597.5,458.1 L598.2,460.3 L599.0,462.4 L599.8,464.6 L600.6,466.7 L601.4,468.9 L602.1,471.0 L602.9,473.2 L603.7,475.3 L604.5,477.4 L605.3,479.5 L606.0,481.7 L606.8,483.8 L607.6,485.9 L608.4,488.0 L609.2,490.1 L609.9,492.2 L610.7,494.2 L611.5,496.3 L612.3,498.4 L613.1,500.5 L613.8,502.5 L614.6,504.6 L615.4,506.6 L616.2,508.6 L617.0,510.7 L617.7,512.7 L618.5,514.7 L619.3,516.7 L620.1,518.7 L620.9,520.7 L621.6,522.7 L622.4,524.7 L623.2,526.7 L624.0,528.7 L624.8,530.6 L625.5,532.6 L626.3,534.5 L627.1,536.5 L627.9,538.4 L628.7,540.3 L629.4,542.2 L630.2,544.1 L631.0,546.0 L631.8,547.9 L632.6,549.8 L633.3,551.7 L634.1,553.5 L634.9,555.4 L635.7,557.2 L636.5,559.1 L637.2,560.9 L638.0,562.7 L638.8,564.5 L639.6,566.3 L640.4,568.1 L641.1,569.9 L641.9,571.7 L642.7,573.5 L643.5,575.2 L644.3,577.0 L645.0,578.7 L645.8,580.4 L646.6,582.1 L647.4,583.8 L648.2,585.5 L648.9,587.2 L649.7,588.9 L650.5,590.6 L651.3,592.3 L652.1,593.9 L652.8,595.5 L653.6,597.2 L654.4,598.8 L655.2,600.4 L656.0,602.0 L656.7,603.6 L657.5,605.2 L658.3,606.8 L659.1,608.3 L659.9,609.9 L660.6,611.4 L661.4,613.0 L662.2,614.5 L663.0,616.0 L663.7,617.5 L664.5,619.0 L665.3,620.5 L666.1,622.0 L666.9,623.4 L667.6,624.9 L668.4,626.3 L669.2,627.7 L670.0,629.2 L670.8,630.6 L671.5,632.0 L672.3,633.4 L673.1,634.8 L673.9,636.1 L674.7,637.5 L675.4,638.8 L676.2,640.2 L677.0,641.5 L677.8,642.8 L678.6,644.2 L679.3,645.5 L680.1,646.7 L680.9,648.0 L681.7,649.3 L682.5,650.6 L683.2,651.8 L684.0,653.1 L684.8,654.3 L685.6,655.5 L686.4,656.7 L687.1,657.9 L687.9,659.1 L688.7,660.3 L689.5,661.5 L690.3,662.6 L691.0,663.8 L691.8,664.9 L692.6,666.1 L693.4,667.2 L694.2,668.3 L694.9,669.4 L695.7,670.5 L696.5,671.6 L697.3,672.7 L698.1,673.7 L698.8,674.8 L699.6,675.8 L700.4,676.9 L701.2,677.9 L702.0,678.9 L702.7,679.9 L703.5,680.9 L704.3,681.9 L705.1,682.9 L705.9,683.9 L706.6,684.9 L707.4,685.8 L708.2,686.8 L709.0,687.7 L709.8,688.6 L710.5,689.6 L711.3,690.5 L712.1,691.4 L712.9,692.3 L713.7,693.1 L714.4,694.0 L715.2,694.9 L716.0,695.7 L716.8,696.6 L717.6,697.4 L718.3,698.3 L719.1,699.1 L719.9,699.9 L720.7,700.7 L721.5,701.5 L722.2,702.3 L723.0,703.1 L723.8,703.9 L724.6,704.6 L725.4,705.4 L726.1,706.2 L726.9,706.9 L727.7,707.6 L728.5,708.4 L729.3,709.1 L730.0,709.8 L730.8,710.5 L731.6,711.2 L732.4,711.9 L733.1,712.6 L733.9,713.2 L734.7,713.9 L735.5,714.6 L736.3,715.2 L737.0,715.9 L737.8,716.5 L738.6,717.1 L739.4,717.8 L740.2,718.4 L740.9,719.0 L741.7,719.6 L742.5,720.2 L743.3,720.8 L744.1,721.3 L744.8,721.9 L745.6,722.5 L746.4,723.0 L747.2,723.6 L748.0,724.2 L748.7,724.7 L749.5,725.2 L750.3,725.8 L751.1,726.3 L751.9,726.8 L752.6,727.3 L753.4,727.8 L754.2,728.3 L755.0,728.8 L755.8,729.3 L756.5,729.8 L757.3,730.2 L758.1,730.7 L758.9,731.2 L759.7,731.6 L760.4,732.1 L761.2,732.5 L762.0,733.0 L762.8,733.4 L763.6,733.8 L764.3,734.2 L765.1,734.7 L765.9,735.1 L766.7,735.5 L767.5,735.9 L768.2,736.3 L769.0,736.7 L769.8,737.1 L770.6,737.4 L771.4,737.8 L772.1,738.2 L772.9,738.6 L773.7,738.9 L774.5,739.3 L775.3,739.6 L776.0,740.0 L776.8,740.3 L777.6,740.7 L778.4,741.0 L779.2,741.3 L779.9,741.6 L780.7,742.0 L781.5,742.3 L782.3,742.6 L783.1,742.9 L783.8,743.2 L784.6,743.5 L785.4,743.8 L786.2,744.1 L787.0,744.4 L787.7,744.6 L788.5,744.9 L789.3,745.2 L790.1,745.5 L790.9,745.7 L791.6,746.0 L792.4,746.3 L793.2,746.5 L794.0,746.8 L794.8,747.0 L795.5,747.3 L796.3,747.5 L797.1,747.7 L797.9,748.0 L798.6,748.2 L799.4,748.4 L800.2,748.6 L801.0,748.9 L801.8,749.1 L802.5,749.3 L803.3,749.5 L804.1,749.7 L804.9,749.9 L805.7,750.1 L806.4,750.3 L807.2,750.5 L808.0,750.7 L808.8,750.9 L809.6,751.1 L810.3,751.3 L811.1,751.4 L811.9,751.6 L812.7,751.8 L813.5,752.0 L814.2,752.1 L815.0,752.3 L815.8,752.5 L816.6,752.6 L817.4,752.8 L818.1,753.0 L818.9,753.1 L819.7,753.3 L820.5,753.4 L821.3,753.6 L822.0,753.7 L822.8,753.8 L823.6,754.0 L824.4,754.1 L825.2,754.3 L825.9,754.4 L826.7,754.5 L827.5,754.7 L828.3,754.8 L829.1,754.9 L829.8,755.0 L830.6,755.2 L831.4,755.3 L832.2,755.4 L833.0,755.5 L833.7,755.6 L834.5,755.7 L835.3,755.8 L836.1,755.9 L836.9,756.1 L837.6,756.2 L838.4,756.3 L839.2,756.4 L840.0,756.5 L840.8,756.6 L841.5,756.7 L842.3,756.7 L843.1,756.8 L843.9,756.9 L844.7,757.0 L845.4,757.1 L846.2,757.2 L847.0,757.3 L847.8,757.4 L848.6,757.4 L849.3,757.5 L850.1,757.6 L850.9,757.7 L851.7,757.8 L852.5,757.8 L853.2,757.9 L854.0,758.0 L854.8,758.0 L855.6,758.1 L856.4,758.2 L857.1,758.3 L857.9,758.3 L858.7,758.4 L859.5,758.4 L860.3,758.5 L861.0,758.6 L861.8,758.6 L862.6,758.7 L863.4,758.8 L864.1,758.8 L864.9,758.9 L865.7,758.9 L866.5,759.0 L867.3,759.0 L868.0,759.1 L868.8,759.1 L869.6,759.2 L870.4,759.2 L871.2,759.3 L871.9,759.3 L872.7,759.4 L873.5,759.4 L874.3,759.5 L875.1,759.5 L875.8,759.5 L876.6,759.6 L877.4,759.6 L878.2,759.7 L879.0,759.7 L879.7,759.8 L880.5,759.8 L881.3,759.8 L882.1,759.9 L882.9,759.9 L883.6,759.9 L884.4,760.0 L885.2,760.0 L886.0,760.0 L886.8,760.1 L887.5,760.1 L888.3,760.1 L889.1,760.2 L889.9,760.2 L890.7,760.2 L891.4,760.3 L892.2,760.3 L893.0,760.3 L893.8,760.3 L894.6,760.4 L895.3,760.4 L896.1,760.4 L896.9,760.4 L897.7,760.5 L898.5,760.5 L899.2,760.5 L900.0,760.5 L900.8,760.6 L901.6,760.6 L902.4,760.6 L903.1,760.6 L903.9,760.7 L904.7,760.7 L905.5,760.7 L906.3,760.7 L907.0,760.7 L907.8,760.8 L908.6,760.8 L909.4,760.8 L910.2,760.8 L910.9,760.8 L911.7,760.8 L912.5,760.9 L913.3,760.9 L914.1,760.9 L914.8,760.9 L915.6,760.9 L916.4,760.9 L917.2,761.0 L918.0,761.0 L918.7,761.0 L919.5,761.0 L920.3,761.0 L921.1,761.0 L921.9,761.0 L922.6,761.1 L923.4,761.1 L924.2,761.1 L925.0,761.1 L925.8,761.1 L926.5,761.1 L927.3,761.1 L928.1,761.1 L928.9,761.1 L929.7,761.2 L930.4,761.2 L931.2,761.2 L932.0,761.2 L932.8,761.2 L933.5,761.2 L934.3,761.2 L935.1,761.2 L935.9,761.2 L936.7,761.2 L937.4,761.3 L938.2,761.3 L939.0,761.3 L939.8,761.3 L940.6,761.3 L941.3,761.3 L942.1,761.3 L942.9,761.3 L943.7,761.3 L944.5,761.3 L945.2,761.3 L946.0,761.3 L946.8,761.3 L947.6,761.3 L948.4,761.4 L949.1,761.4 L949.9,761.4 L950.7,761.4 L951.5,761.4 L952.3,761.4 L953.0,761.4 L953.8,761.4 L954.6,761.4 L955.4,761.4 L956.2,761.4 L956.9,761.4 L957.7,761.4 L958.5,761.4 L959.3,761.4 L960.1,761.4 L960.8,761.4 L961.6,761.4 L962.4,761.4 L963.2,761.4 L964.0,761.4 L964.7,761.5 L965.5,761.5 L966.3,761.5 L967.1,761.5 L967.9,761.5 L968.6,761.5 L969.4,761.5 L970.2,761.5 L971.0,761.5 L971.8,761.5 L972.5,761.5 L973.3,761.5 L974.1,761.5 L974.9,761.5 L975.7,761.5 L976.4,761.5 L977.2,761.5 L978.0,761.5 L978.8,761.5 L979.6,761.5 L980.3,761.5 L981.1,761.5 L981.9,761.5 L982.7,761.5 L983.5,761.5 L984.2,761.5 L985.0,761.5 L985.8,761.5 L986.6,761.5 L987.4,761.5 L988.1,761.5 L988.9,761.5 L989.7,761.5 L990.5,761.5 L991.3,761.5 L992.0,761.5 L992.8,761.5 L993.6,761.5 L994.4,761.5 L995.2,761.5 L995.9,761.5 L996.7,761.5 L997.5,761.6 L998.3,761.6 L999.0,761.6 L999.8,761.6 L1000.6,761.6 L1001.4,761.6 L1002.2,761.6 L1002.9,761.6 L1003.7,761.6 L1004.5,761.6 L1005.3,761.6 L1006.1,761.6 L1006.8,761.6 L1007.6,761.6 L1008.4,761.6 L1009.2,761.6 L1010.0,761.6 L1010.7,761.6 L1011.5,761.6 L1012.3,761.6 L1013.1,761.6 L1013.9,761.6 L1014.6,761.6 L1015.4,761.6 L1016.2,761.6 L1017.0,761.6 L1017.8,761.6 L1018.5,761.6 L1019.3,761.6 L1020.1,761.6 L1020.9,761.6 L1021.7,761.6 L1022.4,761.6 L1023.2,761.6 L1024.0,761.6 L1024.8,761.6 L1025.6,761.6 L1026.3,761.6 L1027.1,761.6 L1027.9,761.6 L1028.7,761.6 L1029.5,761.6 L1030.2,761.6 L1031.0,761.6 L1031.0,761.6 L1030.2,761.6 L1029.5,761.6 L1028.7,761.6 L1027.9,761.6 L1027.1,761.6 L1026.3,761.6 L1025.6,761.6 L1024.8,761.6 L1024.0,761.6 L1023.2,761.6 L1022.4,761.6 L1021.7,761.6 L1020.9,761.6 L1020.1,761.6 L1019.3,761.6 L1018.5,761.6 L1017.8,761.6 L1017.0,761.6 L1016.2,761.6 L1015.4,761.6 L1014.6,761.6 L1013.9,761.6 L1013.1,761.6 L1012.3,761.6 L1011.5,761.6 L1010.7,761.6 L1010.0,761.6 L1009.2,761.6 L1008.4,761.6 L1007.6,761.6 L1006.8,761.6 L1006.1,761.6 L1005.3,761.6 L1004.5,761.6 L1003.7,761.6 L1002.9,761.6 L1002.2,761.6 L1001.4,761.6 L1000.6,761.6 L999.8,761.6 L999.0,761.6 L998.3,761.6 L997.5,761.6 L996.7,761.6 L995.9,761.6 L995.2,761.6 L994.4,761.6 L993.6,761.6 L992.8,761.6 L992.0,761.6 L991.3,761.6 L990.5,761.6 L989.7,761.6 L988.9,761.6 L988.1,761.6 L987.4,761.6 L986.6,761.6 L985.8,761.6 L985.0,761.6 L984.2,761.6 L983.5,761.6 L982.7,761.6 L981.9,761.6 L981.1,761.6 L980.3,761.6 L979.6,761.6 L978.8,761.6 L978.0,761.6 L977.2,761.6 L976.4,761.6 L975.7,761.6 L974.9,761.6 L974.1,761.6 L973.3,761.6 L972.5,761.6 L971.8,761.6 L971.0,761.6 L970.2,761.6 L969.4,761.6 L968.6,761.6 L967.9,761.6 L967.1,761.6 L966.3,761.6 L965.5,761.6 L964.7,761.6 L964.0,761.6 L963.2,761.6 L962.4,761.6 L961.6,761.6 L960.8,761.6 L960.1,761.6 L959.3,761.6 L958.5,761.6 L957.7,761.6 L956.9,761.6 L956.2,761.6 L955.4,761.6 L954.6,761.6 L953.8,761.6 L953.0,761.6 L952.3,761.6 L951.5,761.6 L950.7,761.6 L949.9,761.6 L949.1,761.6 L948.4,761.6 L947.6,761.6 L946.8,761.6 L946.0,761.6 L945.2,761.6 L944.5,761.6 L943.7,761.6 L942.9,761.6 L942.1,761.6 L941.3,761.6 L940.6,761.6 L939.8,761.6 L939.0,761.6 L938.2,761.6 L937.4,761.6 L936.7,761.6 L935.9,761.6 L935.1,761.6 L934.3,761.6 L933.5,761.6 L932.8,761.6 L932.0,761.6 L931.2,761.6 L930.4,761.6 L929.7,761.5 L928.9,761.5 L928.1,761.5 L927.3,761.5 L926.5,761.5 L925.8,761.5 L925.0,761.5 L924.2,761.5 L923.4,761.5 L922.6,761.5 L921.9,761.5 L921.1,761.5 L920.3,761.5 L919.5,761.5 L918.7,761.5 L918.0,761.5 L917.2,761.5 L916.4,761.5 L915.6,761.5 L914.8,761.5 L914.1,761.5 L913.3,761.5 L912.5,761.5 L911.7,761.5 L910.9,761.5 L910.2,761.5 L909.4,761.5 L908.6,761.5 L907.8,761.5 L907.0,761.5 L906.3,761.5 L905.5,761.5 L904.7,761.5 L903.9,761.5 L903.1,761.5 L902.4,761.5 L901.6,761.5 L900.8,761.4 L900.0,761.4 L899.2,761.4 L898.5,761.4 L897.7,761.4 L896.9,761.4 L896.1,761.4 L895.3,761.4 L894.6,761.4 L893.8,761.4 L893.0,761.4 L892.2,761.4 L891.4,761.4 L890.7,761.4 L889.9,761.4 L889.1,761.4 L888.3,761.4 L887.5,761.3 L886.8,761.3 L886.0,761.3 L885.2,761.3 L884.4,761.3 L883.6,761.3 L882.9,761.3 L882.1,761.3 L881.3,761.3 L880.5,761.3 L879.7,761.3 L879.0,761.3 L878.2,761.3 L877.4,761.2 L876.6,761.2 L875.8,761.2 L875.1,761.2 L874.3,761.2 L873.5,761.2 L872.7,761.2 L871.9,761.2 L871.2,761.2 L870.4,761.1 L869.6,761.1 L868.8,761.1 L868.0,761.1 L867.3,761.1 L866.5,761.1 L865.7,761.1 L864.9,761.0 L864.1,761.0 L863.4,761.0 L862.6,761.0 L861.8,761.0 L861.0,761.0 L860.3,760.9 L859.5,760.9 L858.7,760.9 L857.9,760.9 L857.1,760.9 L856.4,760.9 L855.6,760.8 L854.8,760.8 L854.0,760.8 L853.2,760.8 L852.5,760.8 L851.7,760.7 L850.9,760.7 L850.1,760.7 L849.3,760.7 L848.6,760.6 L847.8,760.6 L847.0,760.6 L846.2,760.6 L845.4,760.5 L844.7,760.5 L843.9,760.5 L843.1,760.4 L842.3,760.4 L841.5,760.4 L840.8,760.4 L840.0,760.3 L839.2,760.3 L838.4,760.3 L837.6,760.2 L836.9,760.2 L836.1,760.2 L835.3,760.1 L834.5,760.1 L833.7,760.0 L833.0,760.0 L832.2,760.0 L831.4,759.9 L830.6,759.9 L829.8,759.8 L829.1,759.8 L828.3,759.8 L827.5,759.7 L826.7,759.7 L825.9,759.6 L825.2,759.6 L824.4,759.5 L823.6,759.5 L822.8,759.4 L822.0,759.4 L821.3,759.3 L820.5,759.2 L819.7,759.2 L818.9,759.1 L818.1,759.1 L817.4,759.0 L816.6,759.0 L815.8,758.9 L815.0,758.8 L814.2,758.8 L813.5,758.7 L812.7,758.6 L811.9,758.5 L811.1,758.5 L810.3,758.4 L809.6,758.3 L808.8,758.3 L808.0,758.2 L807.2,758.1 L806.4,758.0 L805.7,757.9 L804.9,757.8 L804.1,757.8 L803.3,757.7 L802.5,757.6 L801.8,757.5 L801.0,757.4 L800.2,757.3 L799.4,757.2 L798.6,757.1 L797.9,757.0 L797.1,756.9 L796.3,756.8 L795.5,756.7 L794.8,756.6 L794.0,756.5 L793.2,756.3 L792.4,756.2 L791.6,756.1 L790.9,756.0 L790.1,755.9 L789.3,755.7 L788.5,755.6 L787.7,755.5 L787.0,755.3 L786.2,755.2 L785.4,755.1 L784.6,754.9 L783.8,754.8 L783.1,754.6 L782.3,754.5 L781.5,754.3 L780.7,754.2 L779.9,754.0 L779.2,753.8 L778.4,753.7 L777.6,753.5 L776.8,753.3 L776.0,753.1 L775.3,753.0 L774.5,752.8 L773.7,752.6 L772.9,752.4 L772.1,752.2 L771.4,752.0 L770.6,751.8 L769.8,751.6 L769.0,751.4 L768.2,751.2 L767.5,751.0 L766.7,750.8 L765.9,750.5 L765.1,750.3 L764.3,750.1 L763.6,749.8 L762.8,749.6 L762.0,749.4 L761.2,749.1 L760.4,748.9 L759.7,748.6 L758.9,748.3 L758.1,748.1 L757.3,747.8 L756.5,747.5 L755.8,747.2 L755.0,747.0 L754.2,746.7 L753.4,746.4 L752.6,746.1 L751.9,745.8 L751.1,745.5 L750.3,745.1 L749.5,744.8 L748.7,744.5 L748.0,744.2 L747.2,743.8 L746.4,743.5 L745.6,743.1 L744.8,742.8 L744.1,742.4 L743.3,742.1 L742.5,741.7 L741.7,741.3 L740.9,740.9 L740.2,740.5 L739.4,740.1 L738.6,739.7 L737.8,739.3 L737.0,738.9 L736.3,738.5 L735.5,738.0 L734.7,737.6 L733.9,737.2 L733.1,736.7 L732.4,736.3 L731.6,735.8 L730.8,735.3 L730.0,734.8 L729.3,734.4 L728.5,733.9 L727.7,733.4 L726.9,732.9 L726.1,732.3 L725.4,731.8 L724.6,731.3 L723.8,730.7 L723.0,730.2 L722.2,729.6 L721.5,729.1 L720.7,728.5 L719.9,727.9 L719.1,727.3 L718.3,726.7 L717.6,726.1 L716.8,725.5 L716.0,724.9 L715.2,724.3 L714.4,723.6 L713.7,723.0 L712.9,722.3 L712.1,721.6 L711.3,720.9 L710.5,720.3 L709.8,719.6 L709.0,718.9 L708.2,718.1 L707.4,717.4 L706.6,716.7 L705.9,715.9 L705.1,715.2 L704.3,714.4 L703.5,713.6 L702.7,712.8 L702.0,712.0 L701.2,711.2 L700.4,710.4 L699.6,709.6 L698.8,708.7 L698.1,707.9 L697.3,707.0 L696.5,706.1 L695.7,705.3 L694.9,704.4 L694.2,703.5 L693.4,702.5 L692.6,701.6 L691.8,700.7 L691.0,699.7 L690.3,698.7 L689.5,697.8 L688.7,696.8 L687.9,695.8 L687.1,694.8 L686.4,693.7 L685.6,692.7 L684.8,691.6 L684.0,690.6 L683.2,689.5 L682.5,688.4 L681.7,687.3 L680.9,686.2 L680.1,685.1 L679.3,683.9 L678.6,682.8 L677.8,681.6 L677.0,680.4 L676.2,679.3 L675.4,678.0 L674.7,676.8 L673.9,675.6 L673.1,674.4 L672.3,673.1 L671.5,671.8 L670.8,670.5 L670.0,669.2 L669.2,667.9 L668.4,666.6 L667.6,665.3 L666.9,663.9 L666.1,662.5 L665.3,661.1 L664.5,659.7 L663.7,658.3 L663.0,656.9 L662.2,655.5 L661.4,654.0 L660.6,652.5 L659.9,651.1 L659.1,649.6 L658.3,648.0 L657.5,646.5 L656.7,645.0 L656.0,643.4 L655.2,641.8 L654.4,640.3 L653.6,638.7 L652.8,637.0 L652.1,635.4 L651.3,633.8 L650.5,632.1 L649.7,630.4 L648.9,628.7 L648.2,627.0 L647.4,625.3 L646.6,623.6 L645.8,621.8 L645.0,620.0 L644.3,618.3 L643.5,616.5 L642.7,614.7 L641.9,612.8 L641.1,611.0 L640.4,609.1 L639.6,607.3 L638.8,605.4 L638.0,603.5 L637.2,601.5 L636.5,599.6 L635.7,597.7 L634.9,595.7 L634.1,593.7 L633.3,591.7 L632.6,589.7 L631.8,587.7 L631.0,585.7 L630.2,583.6 L629.4,581.5 L628.7,579.5 L627.9,577.4 L627.1,575.2 L626.3,573.1 L625.5,571.0 L624.8,568.8 L624.0,566.7 L623.2,564.5 L622.4,562.3 L621.6,560.1 L620.9,557.8 L620.1,555.6 L619.3,553.3 L618.5,551.1 L617.7,548.8 L617.0,546.5 L616.2,544.2 L615.4,541.8 L614.6,539.5 L613.8,537.1 L613.1,534.8 L612.3,532.4 L611.5,530.0 L610.7,527.6 L609.9,525.2 L609.2,522.7 L608.4,520.3 L607.6,517.8 L606.8,515.4 L606.0,512.9 L605.3,510.4 L604.5,507.9 L603.7,505.3 L602.9,502.8 L602.1,500.3 L601.4,497.7 L600.6,495.1 L599.8,492.6 L599.0,490.0 L598.2,487.4 L597.5,484.8 L596.7,482.1 L595.9,479.5 L595.1,476.9 L594.4,474.2 L593.6,471.5 L592.8,468.9 L592.0,466.2 L591.2,463.5 L590.5,460.8 L589.7,458.1 L588.9,455.3 L588.1,452.6 L587.3,449.9 L586.6,447.1 L585.8,444.4 L585.0,441.6 L584.2,438.8 L583.4,436.0 L582.7,433.3 L581.9,430.5 L581.1,427.7 L580.3,424.9 L579.5,422.0 L578.8,419.2 L578.0,416.4 L577.2,413.6 L576.4,410.7 L575.6,407.9 L574.9,405.0 L574.1,402.2 L573.3,399.3 L572.5,396.5 L571.7,393.6 L571.0,390.7 L570.2,387.9 L569.4,385.0 L568.6,382.1 L567.8,379.8 L567.1,377.6 L566.3,375.5 L565.5,373.3 L564.7,371.1 L563.9,368.9 L563.2,366.7 L562.4,364.5 L561.6,362.3 L560.8,360.2 L560.0,358.0 L559.3,355.8 L558.5,353.7 L557.7,351.5 L556.9,349.4 L556.1,347.2 L555.4,345.1 L554.6,342.9 L553.8,340.8 L553.0,338.7 L552.2,336.6 L551.5,334.4 L550.7,332.3 L549.9,330.2 L549.1,328.1 L548.3,326.0 L547.6,324.0 L546.8,321.9 L546.0,319.8 L545.2,317.7 L544.4,315.7 L543.7,313.6 L542.9,311.6 L542.1,309.6 L541.3,307.6 L540.5,305.5 L539.8,303.5 L539.0,301.5 L538.2,299.5 L537.4,297.6 L536.6,295.6 L535.9,293.6 L535.1,291.7 L534.3,289.8 L533.5,287.8 L532.7,285.9 L532.0,284.0 L531.2,282.1 L530.4,280.2 L529.6,278.3 L528.9,276.5 L528.1,274.6 L527.3,272.8 L526.5,271.0 L525.7,269.1 L525.0,267.3 L524.2,265.5 L523.4,263.8 L522.6,262.0 L521.8,260.2 L521.1,258.5 L520.3,256.8 L519.5,255.1 L518.7,253.4 L517.9,251.7 L517.2,250.0 L516.4,248.3 L515.6,246.7 L514.8,245.1 L514.0,243.5 L513.3,241.9 L512.5,240.3 L511.7,238.7 L510.9,237.2 L510.1,235.6 L509.4,234.1 L508.6,232.6 L507.8,231.1 L507.0,229.6 L506.2,228.2 L505.5,226.7 L504.7,225.3 L503.9,223.9 L503.1,222.5 L502.3,221.2 L501.6,219.8 L500.8,218.5 L500.0,217.2 L499.2,215.8 L498.4,214.6 L497.7,213.3 L496.9,212.1 L496.1,210.8 L495.3,209.6 L494.5,208.4 L493.8,207.3 L493.0,206.1 L492.2,205.0 L491.4,203.8 L490.6,202.8 L489.9,201.7 L489.1,200.6 L488.3,199.6 L487.5,198.6 L486.7,197.6 L486.0,196.6 L485.2,195.6 L484.4,194.7 L483.6,193.8 L482.8,192.9 L482.1,192.0 L481.3,191.1 L480.5,190.3 L479.7,189.5 L478.9,188.7 L478.2,187.9 L477.4,187.2 L476.6,186.5 L475.8,185.7 L475.0,185.1 L474.3,184.4 L473.5,183.7 L472.7,183.1 L471.9,182.5 L471.1,181.9 L470.4,181.4 L469.6,180.8 L468.8,180.3 L468.0,179.8 L467.2,179.4 L466.5,178.9 L465.7,178.5 L464.9,178.1 L464.1,177.7 L463.3,177.3 L462.6,177.0 L461.8,176.7 L461.0,176.4 L460.2,176.1 L459.5,175.9 L458.7,175.7 L457.9,175.5 L457.1,175.3 L456.3,175.1 L455.6,175.0 L454.8,174.9 L454.0,174.8 L453.2,174.7 L452.4,174.7 L451.7,174.7 L450.9,174.7 L450.1,174.8 L449.3,174.9 L448.5,175.0 L447.8,175.2 L447.0,175.3 L446.2,175.5 L445.4,175.7 L444.6,176.0 L443.9,176.2 L443.1,176.5 L442.3,176.8 L441.5,177.1 L440.7,177.5 L440.0,177.8 L439.2,178.2 L438.4,178.7 L437.6,179.1 L436.8,179.5 L436.1,180.0 L435.3,180.5 L434.5,181.0 L433.7,181.6 L432.9,182.2 L432.2,182.7 L431.4,183.4 L430.6,184.0 L429.8,184.6 L429.0,185.3 L428.3,186.0 L427.5,186.7 L426.7,187.5 L425.9,188.2 L425.1,189.0 L424.4,189.8 L423.6,190.6 L422.8,191.5 L422.0,192.3 L421.2,193.2 L420.5,194.1 L419.7,195.0 L418.9,196.0 L418.1,197.0 L417.3,197.9 L416.6,198.9 L415.8,200.0 L415.0,201.0 L414.2,202.1 L413.4,203.2 L412.7,204.3 L411.9,205.4 L411.1,206.5 L410.3,207.7 L409.5,208.9 L408.8,210.1 L408.0,211.3 L407.2,212.5 L406.4,213.8 L405.6,215.0 L404.9,216.3 L404.1,217.6 L403.3,219.0 L402.5,220.3 L401.7,221.7 L401.0,223.1 L400.2,224.4 L399.4,225.9 L398.6,227.3 L397.8,228.7 L397.1,230.2 L396.3,231.7 L395.5,233.2 L394.7,234.7 L394.0,236.2 L393.2,237.7 L392.4,239.3 L391.6,240.9 L390.8,242.5 L390.1,244.1 L389.3,245.7 L388.5,247.3 L387.7,249.0 L386.9,250.6 L386.2,252.3 L385.4,254.0 L384.6,255.7 L383.8,257.4 L383.0,259.2 L382.3,260.9 L381.5,262.7 L380.7,264.4 L379.9,266.2 L379.1,268.0 L378.4,269.8 L377.6,271.6 L376.8,273.5 L376.0,275.3 L375.2,277.2 L374.5,279.0 L373.7,280.9 L372.9,282.8 L372.1,284.7 L371.3,286.6 L370.6,288.6 L369.8,290.5 L369.0,292.4 L368.2,294.4 L367.4,296.3 L366.7,298.3 L365.9,300.3 L365.1,302.3 L364.3,304.3 L363.5,306.3 L362.8,308.3 L362.0,310.3 L361.2,312.4 L360.4,314.4 L359.6,316.5 L358.9,318.5 L358.1,320.6 L357.3,322.7 L356.5,324.7 L355.7,326.8 L355.0,328.9 L354.2,331.0 L353.4,333.1 L352.6,335.2 L351.8,337.4 L351.1,339.5 L350.3,341.6 L349.5,343.7 L348.7,345.9 L347.9,348.0 L347.2,350.2 L346.4,352.3 L345.6,354.5 L344.8,356.7 L344.0,358.8 L343.3,361.0 L342.5,363.2 L341.7,365.3 L340.9,367.5 L340.1,369.7 L339.4,371.9 L338.6,374.1 L337.8,376.3 L337.0,378.5 L336.2,380.7 L335.5,383.2 L334.7,386.1 L333.9,388.9 L333.1,391.8 L332.3,394.7 L331.6,397.5 L330.8,400.4 L330.0,403.3 L329.2,406.1 L328.5,409.0 L327.7,411.8 L326.9,414.6 L326.1,417.5 L325.3,420.3 L324.6,423.1 L323.8,425.9 L323.0,428.7 L322.2,431.5 L321.4,434.3 L320.7,437.1 L319.9,439.9 L319.1,442.6 L318.3,445.4 L317.5,448.2 L316.8,450.9 L316.0,453.6 L315.2,456.4 L314.4,459.1 L313.6,461.8 L312.9,464.5 L312.1,467.2 L311.3,469.9 L310.5,472.5 L309.7,475.2 L309.0,477.9 L308.2,480.5 L307.4,483.1 L306.6,485.7 L305.8,488.4 L305.1,490.9 L304.3,493.5 L303.5,496.1 L302.7,498.7 L301.9,501.2 L301.2,503.8 L300.4,506.3 L299.6,508.8 L298.8,511.3 L298.0,513.8 L297.3,516.3 L296.5,518.8 L295.7,521.2 L294.9,523.7 L294.1,526.1 L293.4,528.5 L292.6,530.9 L291.8,533.3 L291.0,535.7 L290.2,538.0 L289.5,540.4 L288.7,542.7 L287.9,545.0 L287.1,547.3 L286.3,549.6 L285.6,551.9 L284.8,554.2 L284.0,556.4 L283.2,558.7 L282.4,560.9 L281.7,563.1 L280.9,565.3 L280.1,567.5 L279.3,569.6 L278.5,571.8 L277.8,573.9 L277.0,576.0 L276.2,578.2 L275.4,580.2 L274.6,582.3 L273.9,584.4 L273.1,586.4 L272.3,588.5 L271.5,590.5 L270.7,592.5 L270.0,594.5 L269.2,596.4 L268.4,598.4 L267.6,600.3 L266.8,602.3 L266.1,604.2 L265.3,606.1 L264.5,608.0 L263.7,609.8 L262.9,611.7 L262.2,613.5 L261.4,615.3 L260.6,617.1 L259.8,618.9 L259.1,620.7 L258.3,622.5 L257.5,624.2 L256.7,626.0 L255.9,627.7 L255.2,629.4 L254.4,631.1 L253.6,632.7 L252.8,634.4 L252.0,636.0 L251.3,637.6 L250.5,639.3 L249.7,640.9 L248.9,642.4 L248.1,644.0 L247.4,645.6 L246.6,647.1 L245.8,648.6 L245.0,650.1 L244.2,651.6 L243.5,653.1 L242.7,654.6 L241.9,656.0 L241.1,657.4 L240.3,658.9 L239.6,660.3 L238.8,661.7 L238.0,663.0 L237.2,664.4 L236.4,665.8 L235.7,667.1 L234.9,668.4 L234.1,669.7 L233.3,671.0 L232.5,672.3 L231.8,673.6 L231.0,674.8 L230.2,676.1 L229.4,677.3 L228.6,678.5 L227.9,679.7 L227.1,680.9 L226.3,682.1 L225.5,683.2 L224.7,684.4 L224.0,685.5 L223.2,686.6 L222.4,687.7 L221.6,688.8 L220.8,689.9 L220.1,691.0 L219.3,692.0 L218.5,693.1 L217.7,694.1 L216.9,695.1 L216.2,696.2 L215.4,697.2 L214.6,698.1 L213.8,699.1 L213.0,700.1 L212.3,701.0 L211.5,702.0 L210.7,702.9 L209.9,703.8 L209.1,704.7 L208.4,705.6 L207.6,706.5 L206.8,707.3 L206.0,708.2 L205.2,709.1 L204.5,709.9 L203.7,710.7 L202.9,711.5 L202.1,712.3 L201.3,713.1 L200.6,713.9 L199.8,714.7 L199.0,715.5 L198.2,716.2 L197.4,717.0 L196.7,717.7 L195.9,718.4 L195.1,719.1 L194.3,719.8 L193.6,720.5 L192.8,721.2 L192.0,721.9 L191.2,722.5 L190.4,723.2 L189.7,723.9 L188.9,724.5 L188.1,725.1 L187.3,725.7 L186.5,726.4 L185.8,727.0 L185.0,727.6 L184.2,728.1 L183.4,728.7 L182.6,729.3 L181.9,729.8 L181.1,730.4 L180.3,730.9 L179.5,731.5 L178.7,732.0 L178.0,732.5 L177.2,733.0 L176.4,733.6 L175.6,734.1 L174.8,734.5 L174.1,735.0 L173.3,735.5 L172.5,736.0 L171.7,736.4 L170.9,736.9 L170.2,737.3 L169.4,737.8 L168.6,738.2 L167.8,738.6 L167.0,739.1 L166.3,739.5 L165.5,739.9 L164.7,740.3 L163.9,740.7 L163.1,741.1 L162.4,741.4 L161.6,741.8 L160.8,742.2 L160.0,742.6 L159.2,742.9 L158.5,743.3 L157.7,743.6 L156.9,744.0 L156.1,744.3 L155.3,744.6 L154.6,744.9 L153.8,745.3 L153.0,745.6 L152.2,745.9 L151.4,746.2 L150.7,746.5 L149.9,746.8 L149.1,747.1 L148.3,747.3 L147.5,747.6 L146.8,747.9 L146.0,748.2 L145.2,748.4 L144.4,748.7 L143.6,749.0 L142.9,749.2 L142.1,749.4 L141.3,749.7 L140.5,749.9 L139.7,750.2 L139.0,750.4 L138.2,750.6 L137.4,750.8 L136.6,751.1 L135.8,751.3 L135.1,751.5 L134.3,751.7 L133.5,751.9 L132.7,752.1 L131.9,752.3 L131.2,752.5 L130.4,752.7 L129.6,752.8 L128.8,753.0 L128.1,753.2 L127.3,753.4 L126.5,753.6 L125.7,753.7 L124.9,753.9 L124.2,754.1 L123.4,754.2 L122.6,754.4 L121.8,754.5 L121.0,754.7 L120.3,754.8 L119.5,755.0 L118.7,755.1 L117.9,755.2 L117.1,755.4 L116.4,755.5 L115.6,755.6 L114.8,755.8 L114.0,755.9 L113.2,756.0 L112.5,756.1 L111.7,756.3 L110.9,756.4 L110.1,756.5 L109.3,756.6 L108.6,756.7 L107.8,756.8 L107.0,756.9 L106.2,757.0 L105.4,757.1 L104.7,757.2 L103.9,757.3 L103.1,757.4 L102.3,757.5 L101.5,757.6 L100.8,757.7 L100.0,757.8 L99.2,757.9 L98.4,758.0 L97.6,758.0 L96.9,758.1 L96.1,758.2 L95.3,758.3Z" fill="#ff7a7a"/>
<path d="M95.3,755.3 L96.1,755.1 L96.9,755.0 L97.6,754.9 L98.4,754.7 L99.2,754.6 L100.0,754.5 L100.8,754.3 L101.5,754.2 L102.3,754.0 L103.1,753.9 L103.9,753.7 L104.7,753.6 L105.4,753.4 L106.2,753.2 L107.0,753.1 L107.8,752.9 L108.6,752.7 L109.3,752.6 L110.1,752.4 L110.9,752.2 L111.7,752.0 L112.5,751.8 L113.2,751.7 L114.0,751.5 L114.8,751.3 L115.6,751.1 L116.4,750.9 L117.1,750.7 L117.9,750.5 L118.7,750.2 L119.5,750.0 L120.3,749.8 L121.0,749.6 L121.8,749.4 L122.6,749.1 L123.4,748.9 L124.2,748.7 L124.9,748.4 L125.7,748.2 L126.5,747.9 L127.3,747.7 L128.1,747.4 L128.8,747.2 L129.6,746.9 L130.4,746.6 L131.2,746.4 L131.9,746.1 L132.7,745.8 L133.5,745.5 L134.3,745.2 L135.1,744.9 L135.8,744.6 L136.6,744.3 L137.4,744.0 L138.2,743.7 L139.0,743.4 L139.7,743.1 L140.5,742.7 L141.3,742.4 L142.1,742.1 L142.9,741.7 L143.6,741.4 L144.4,741.0 L145.2,740.7 L146.0,740.3 L146.8,739.9 L147.5,739.6 L148.3,739.2 L149.1,738.8 L149.9,738.4 L150.7,738.0 L151.4,737.6 L152.2,737.2 L153.0,736.8 L153.8,736.3 L154.6,735.9 L155.3,735.5 L156.1,735.1 L156.9,734.6 L157.7,734.2 L158.5,733.7 L159.2,733.2 L160.0,732.8 L160.8,732.3 L161.6,731.8 L162.4,731.3 L163.1,730.8 L163.9,730.3 L164.7,729.8 L165.5,729.3 L166.3,728.8 L167.0,728.2 L167.8,727.7 L168.6,727.1 L169.4,726.6 L170.2,726.0 L170.9,725.5 L171.7,724.9 L172.5,724.3 L173.3,723.7 L174.1,723.1 L174.8,722.5 L175.6,721.9 L176.4,721.3 L177.2,720.6 L178.0,720.0 L178.7,719.4 L179.5,718.7 L180.3,718.0 L181.1,717.4 L181.9,716.7 L182.6,716.0 L183.4,715.3 L184.2,714.6 L185.0,713.9 L185.8,713.2 L186.5,712.4 L187.3,711.7 L188.1,711.0 L188.9,710.2 L189.7,709.4 L190.4,708.7 L191.2,707.9 L192.0,707.1 L192.8,706.3 L193.6,705.5 L194.3,704.6 L195.1,703.8 L195.9,703.0 L196.7,702.1 L197.4,701.3 L198.2,700.4 L199.0,699.5 L199.8,698.6 L200.6,697.7 L201.3,696.8 L202.1,695.9 L202.9,695.0 L203.7,694.0 L204.5,693.1 L205.2,692.1 L206.0,691.2 L206.8,690.2 L207.6,689.2 L208.4,688.2 L209.1,687.2 L209.9,686.1 L210.7,685.1 L211.5,684.1 L212.3,683.0 L213.0,681.9 L213.8,680.9 L214.6,679.8 L215.4,678.7 L216.2,677.6 L216.9,676.5 L217.7,675.3 L218.5,674.2 L219.3,673.0 L220.1,671.9 L220.8,670.7 L221.6,669.5 L222.4,668.3 L223.2,667.1 L224.0,665.9 L224.7,664.6 L225.5,663.4 L226.3,662.1 L227.1,660.8 L227.9,659.6 L228.6,658.3 L229.4,657.0 L230.2,655.6 L231.0,654.3 L231.8,653.0 L232.5,651.6 L233.3,650.3 L234.1,648.9 L234.9,647.5 L235.7,646.1 L236.4,644.7 L237.2,643.3 L238.0,641.8 L238.8,640.4 L239.6,638.9 L240.3,637.4 L241.1,636.0 L241.9,634.5 L242.7,632.9 L243.5,631.4 L244.2,629.9 L245.0,628.3 L245.8,626.8 L246.6,625.2 L247.4,623.6 L248.1,622.0 L248.9,620.4 L249.7,618.8 L250.5,617.2 L251.3,615.5 L252.0,613.9 L252.8,612.2 L253.6,610.5 L254.4,608.8 L255.2,607.1 L255.9,605.4 L256.7,603.7 L257.5,601.9 L258.3,600.2 L259.1,598.4 L259.8,596.6 L260.6,594.8 L261.4,593.0 L262.2,591.2 L262.9,589.4 L263.7,587.6 L264.5,585.7 L265.3,583.8 L266.1,582.0 L266.8,580.1 L267.6,578.2 L268.4,576.3 L269.2,574.4 L270.0,572.4 L270.7,570.5 L271.5,568.5 L272.3,566.6 L273.1,564.6 L273.9,562.6 L274.6,560.6 L275.4,558.6 L276.2,556.5 L277.0,554.5 L277.8,552.5 L278.5,550.4 L279.3,548.3 L280.1,546.3 L280.9,544.2 L281.7,542.1 L282.4,540.0 L283.2,537.8 L284.0,535.7 L284.8,533.6 L285.6,531.4 L286.3,529.3 L287.1,527.1 L287.9,524.9 L288.7,522.7 L289.5,520.5 L290.2,518.3 L291.0,516.1 L291.8,513.8 L292.6,511.6 L293.4,509.4 L294.1,507.1 L294.9,504.8 L295.7,502.6 L296.5,500.3 L297.3,498.0 L298.0,495.7 L298.8,493.4 L299.6,491.1 L300.4,488.7 L301.2,486.4 L301.9,484.1 L302.7,481.7 L303.5,479.3 L304.3,477.0 L305.1,474.6 L305.8,472.2 L306.6,469.8 L307.4,467.5 L308.2,465.1 L309.0,462.7 L309.7,460.2 L310.5,457.8 L311.3,455.4 L312.1,453.0 L312.9,450.5 L313.6,448.1 L314.4,445.6 L315.2,443.2 L316.0,440.7 L316.8,438.3 L317.5,435.8 L318.3,433.3 L319.1,430.9 L319.9,428.4 L320.7,425.9 L321.4,423.4 L322.2,420.9 L323.0,418.5 L323.8,416.0 L324.6,413.5 L325.3,411.0 L326.1,408.5 L326.9,405.9 L327.7,403.4 L328.5,400.9 L329.2,398.4 L330.0,395.9 L330.8,393.4 L331.6,390.9 L332.3,388.4 L333.1,385.9 L333.9,383.3 L334.7,380.8 L335.5,378.3 L336.2,375.8 L337.0,373.3 L337.8,370.8 L338.6,368.2 L339.4,365.7 L340.1,363.2 L340.9,360.7 L341.7,358.2 L342.5,355.7 L343.3,353.2 L344.0,350.7 L344.8,348.2 L345.6,345.7 L346.4,343.2 L347.2,340.7 L347.9,338.2 L348.7,335.8 L349.5,333.3 L350.3,330.8 L351.1,328.3 L351.8,325.9 L352.6,323.4 L353.4,321.0 L354.2,318.5 L355.0,316.1 L355.7,313.7 L356.5,311.2 L357.3,308.8 L358.1,306.4 L358.9,304.0 L359.6,301.6 L360.4,299.2 L361.2,296.8 L362.0,294.4 L362.8,292.1 L363.5,289.7 L364.3,287.4 L365.1,285.0 L365.9,282.7 L366.7,280.4 L367.4,278.1 L368.2,275.8 L369.0,273.5 L369.8,271.2 L370.6,268.9 L371.3,266.7 L372.1,264.4 L372.9,262.2 L373.7,260.0 L374.5,257.8 L375.2,255.6 L376.0,253.4 L376.8,251.2 L377.6,249.1 L378.4,246.9 L379.1,244.8 L379.9,242.7 L380.7,240.6 L381.5,238.5 L382.3,236.4 L383.0,234.4 L383.8,232.3 L384.6,230.3 L385.4,228.3 L386.2,226.3 L386.9,224.3 L387.7,222.3 L388.5,220.4 L389.3,218.5 L390.1,216.5 L390.8,214.6 L391.6,212.8 L392.4,210.9 L393.2,209.1 L394.0,207.2 L394.7,205.4 L395.5,203.6 L396.3,201.9 L397.1,200.1 L397.8,198.4 L398.6,196.7 L399.4,195.0 L400.2,193.3 L401.0,191.7 L401.7,190.0 L402.5,188.4 L403.3,186.8 L404.1,185.3 L404.9,183.7 L405.6,182.2 L406.4,180.7 L407.2,179.2 L408.0,177.7 L408.8,176.3 L409.5,174.9 L410.3,173.5 L411.1,172.1 L411.9,170.8 L412.7,169.4 L413.4,168.1 L414.2,166.8 L415.0,165.6 L415.8,164.4 L416.6,163.1 L417.3,162.0 L418.1,160.8 L418.9,159.7 L419.7,158.5 L420.5,157.4 L421.2,156.4 L422.0,155.3 L422.8,154.3 L423.6,153.3 L424.4,152.4 L425.1,151.4 L425.9,150.5 L426.7,149.6 L427.5,148.8 L428.3,147.9 L429.0,147.1 L429.8,146.3 L430.6,145.6 L431.4,144.8 L432.2,144.1 L432.9,143.4 L433.7,142.8 L434.5,142.1 L435.3,141.5 L436.1,141.0 L436.8,140.4 L437.6,139.9 L438.4,139.4 L439.2,138.9 L440.0,138.5 L440.7,138.1 L441.5,137.7 L442.3,137.3 L443.1,137.0 L443.9,136.7 L444.6,136.4 L445.4,136.1 L446.2,135.9 L447.0,135.7 L447.8,135.6 L448.5,135.4 L449.3,135.3 L450.1,135.2 L450.9,135.2 L451.7,135.1 L452.4,135.1 L453.2,135.1 L454.0,135.2 L454.8,135.3 L455.6,135.4 L456.3,135.5 L457.1,135.7 L457.9,135.8 L458.7,136.1 L459.5,136.3 L460.2,136.6 L461.0,136.9 L461.8,137.2 L462.6,137.5 L463.3,137.9 L464.1,138.3 L464.9,138.8 L465.7,139.2 L466.5,139.7 L467.2,140.2 L468.0,140.8 L468.8,141.3 L469.6,141.9 L470.4,142.5 L471.1,143.2 L471.9,143.9 L472.7,144.5 L473.5,145.3 L474.3,146.0 L475.0,146.8 L475.8,147.6 L476.6,148.4 L477.4,149.3 L478.2,150.2 L478.9,151.1 L479.7,152.0 L480.5,153.0 L481.3,153.9 L482.1,155.0 L482.8,156.0 L483.6,157.0 L484.4,158.1 L485.2,159.2 L486.0,160.4 L486.7,161.5 L487.5,162.7 L488.3,163.9 L489.1,165.1 L489.9,166.4 L490.6,167.6 L491.4,168.9 L492.2,170.3 L493.0,171.6 L493.8,173.0 L494.5,174.4 L495.3,175.8 L496.1,177.2 L496.9,178.6 L497.7,180.1 L498.4,181.6 L499.2,183.1 L500.0,184.7 L500.8,186.2 L501.6,187.8 L502.3,189.4 L503.1,191.1 L503.9,192.7 L504.7,194.4 L505.5,196.0 L506.2,197.7 L507.0,199.5 L507.8,201.2 L508.6,203.0 L509.4,204.8 L510.1,206.6 L510.9,208.4 L511.7,210.2 L512.5,212.1 L513.3,213.9 L514.0,215.8 L514.8,217.7 L515.6,219.7 L516.4,221.6 L517.2,223.6 L517.9,225.5 L518.7,227.5 L519.5,229.5 L520.3,231.5 L521.1,233.6 L521.8,235.6 L522.6,237.7 L523.4,239.8 L524.2,241.9 L525.0,244.0 L525.7,246.1 L526.5,248.3 L527.3,250.4 L528.1,252.6 L528.9,254.8 L529.6,256.9 L530.4,259.2 L531.2,261.4 L532.0,263.6 L532.7,265.8 L533.5,268.1 L534.3,270.4 L535.1,272.6 L535.9,274.9 L536.6,277.2 L537.4,279.5 L538.2,281.8 L539.0,284.2 L539.8,286.5 L540.5,288.8 L541.3,291.2 L542.1,293.6 L542.9,295.9 L543.7,298.3 L544.4,300.7 L545.2,303.1 L546.0,305.5 L546.8,307.9 L547.6,310.3 L548.3,312.7 L549.1,315.2 L549.9,317.6 L550.7,320.1 L551.5,322.5 L552.2,325.0 L553.0,327.4 L553.8,329.9 L554.6,332.3 L555.4,334.8 L556.1,337.3 L556.9,339.8 L557.7,342.3 L558.5,344.8 L559.3,347.3 L560.0,349.7 L560.8,352.2 L561.6,354.8 L562.4,357.3 L563.2,359.8 L563.9,362.3 L564.7,364.8 L565.5,367.3 L566.3,369.8 L567.1,372.3 L567.8,374.8 L568.6,377.4 L569.4,379.9 L570.2,382.4 L571.0,384.9 L571.7,387.4 L572.5,389.9 L573.3,392.4 L574.1,395.0 L574.9,397.5 L575.6,400.0 L576.4,402.5 L577.2,405.0 L578.0,407.5 L578.8,410.0 L579.5,412.5 L580.3,415.0 L581.1,417.5 L581.9,420.0 L582.7,422.5 L583.4,425.0 L584.2,427.5 L585.0,429.9 L585.8,432.4 L586.6,434.9 L587.3,437.4 L588.1,439.8 L588.9,442.3 L589.7,444.7 L590.5,447.2 L591.2,449.6 L592.0,452.1 L592.8,454.5 L593.6,456.9 L594.4,459.3 L595.1,461.7 L595.9,464.2 L596.7,466.6 L597.5,468.9 L598.2,471.3 L599.0,473.7 L599.8,476.1 L600.6,478.5 L601.4,480.8 L602.1,483.2 L602.9,485.5 L603.7,487.8 L604.5,490.2 L605.3,492.5 L606.0,494.8 L606.8,497.1 L607.6,499.4 L608.4,501.7 L609.2,504.0 L609.9,506.2 L610.7,508.5 L611.5,510.8 L612.3,513.0 L613.1,515.2 L613.8,517.5 L614.6,519.7 L615.4,521.9 L616.2,524.1 L617.0,526.3 L617.7,528.4 L618.5,530.6 L619.3,532.8 L620.1,534.9 L620.9,537.0 L621.6,539.2 L622.4,541.3 L623.2,543.4 L624.0,545.5 L624.8,547.6 L625.5,549.6 L626.3,551.7 L627.1,553.7 L627.9,555.8 L628.7,557.8 L629.4,559.8 L630.2,561.8 L631.0,563.8 L631.8,565.8 L632.6,567.8 L633.3,569.7 L634.1,571.7 L634.9,573.6 L635.7,575.6 L636.5,577.5 L637.2,579.4 L638.0,581.3 L638.8,583.1 L639.6,585.0 L640.4,586.9 L641.1,588.7 L641.9,590.5 L642.7,592.4 L643.5,594.2 L644.3,596.0 L645.0,597.7 L645.8,599.5 L646.6,601.3 L647.4,603.0 L648.2,604.8 L648.9,606.5 L649.7,608.2 L650.5,609.9 L651.3,611.6 L652.1,613.2 L652.8,614.9 L653.6,616.6 L654.4,618.2 L655.2,619.8 L656.0,621.4 L656.7,623.0 L657.5,624.6 L658.3,626.2 L659.1,627.8 L659.9,629.3 L660.6,630.8 L661.4,632.4 L662.2,633.9 L663.0,635.4 L663.7,636.9 L664.5,638.4 L665.3,639.8 L666.1,641.3 L666.9,642.7 L667.6,644.1 L668.4,645.6 L669.2,647.0 L670.0,648.4 L670.8,649.7 L671.5,651.1 L672.3,652.5 L673.1,653.8 L673.9,655.1 L674.7,656.5 L675.4,657.8 L676.2,659.1 L677.0,660.4 L677.8,661.6 L678.6,662.9 L679.3,664.2 L680.1,665.4 L680.9,666.6 L681.7,667.8 L682.5,669.0 L683.2,670.2 L684.0,671.4 L684.8,672.6 L685.6,673.7 L686.4,674.9 L687.1,676.0 L687.9,677.2 L688.7,678.3 L689.5,679.4 L690.3,680.5 L691.0,681.5 L691.8,682.6 L692.6,683.7 L693.4,684.7 L694.2,685.8 L694.9,686.8 L695.7,687.8 L696.5,688.8 L697.3,689.8 L698.1,690.8 L698.8,691.8 L699.6,692.7 L700.4,693.7 L701.2,694.6 L702.0,695.6 L702.7,696.5 L703.5,697.4 L704.3,698.3 L705.1,699.2 L705.9,700.1 L706.6,700.9 L707.4,701.8 L708.2,702.7 L709.0,703.5 L709.8,704.3 L710.5,705.2 L711.3,706.0 L712.1,706.8 L712.9,707.6 L713.7,708.4 L714.4,709.1 L715.2,709.9 L716.0,710.7 L716.8,711.4 L717.6,712.2 L718.3,712.9 L719.1,713.6 L719.9,714.3 L720.7,715.0 L721.5,715.7 L722.2,716.4 L723.0,717.1 L723.8,717.8 L724.6,718.5 L725.4,719.1 L726.1,719.8 L726.9,720.4 L727.7,721.0 L728.5,721.7 L729.3,722.3 L730.0,722.9 L730.8,723.5 L731.6,724.1 L732.4,724.7 L733.1,725.2 L733.9,725.8 L734.7,726.4 L735.5,726.9 L736.3,727.5 L737.0,728.0 L737.8,728.6 L738.6,729.1 L739.4,729.6 L740.2,730.1 L740.9,730.6 L741.7,731.1 L742.5,731.6 L743.3,732.1 L744.1,732.6 L744.8,733.1 L745.6,733.5 L746.4,734.0 L747.2,734.4 L748.0,734.9 L748.7,735.3 L749.5,735.8 L750.3,736.2 L751.1,736.6 L751.9,737.0 L752.6,737.4 L753.4,737.8 L754.2,738.2 L755.0,738.6 L755.8,739.0 L756.5,739.4 L757.3,739.8 L758.1,740.2 L758.9,740.5 L759.7,740.9 L760.4,741.2 L761.2,741.6 L762.0,741.9 L762.8,742.3 L763.6,742.6 L764.3,742.9 L765.1,743.3 L765.9,743.6 L766.7,743.9 L767.5,744.2 L768.2,744.5 L769.0,744.8 L769.8,745.1 L770.6,745.4 L771.4,745.7 L772.1,746.0 L772.9,746.3 L773.7,746.5 L774.5,746.8 L775.3,747.1 L776.0,747.3 L776.8,747.6 L777.6,747.8 L778.4,748.1 L779.2,748.3 L779.9,748.6 L780.7,748.8 L781.5,749.1 L782.3,749.3 L783.1,749.5 L783.8,749.7 L784.6,750.0 L785.4,750.2 L786.2,750.4 L787.0,750.6 L787.7,750.8 L788.5,751.0 L789.3,751.2 L790.1,751.4 L790.9,751.6 L791.6,751.8 L792.4,752.0 L793.2,752.1 L794.0,752.3 L794.8,752.5 L795.5,752.7 L796.3,752.8 L797.1,753.0 L797.9,753.2 L798.6,753.3 L799.4,753.5 L800.2,753.7 L801.0,753.8 L801.8,754.0 L802.5,754.1 L803.3,754.3 L804.1,754.4 L804.9,754.5 L805.7,754.7 L806.4,754.8 L807.2,755.0 L808.0,755.1 L808.8,755.2 L809.6,755.3 L810.3,755.5 L811.1,755.6 L811.9,755.7 L812.7,755.8 L813.5,755.9 L814.2,756.1 L815.0,756.2 L815.8,756.3 L816.6,756.4 L817.4,756.5 L818.1,756.6 L818.9,756.7 L819.7,756.8 L820.5,756.9 L821.3,757.0 L822.0,757.1 L822.8,757.2 L823.6,757.3 L824.4,757.4 L825.2,757.4 L825.9,757.5 L826.7,757.6 L827.5,757.7 L828.3,757.8 L829.1,757.9 L829.8,757.9 L830.6,758.0 L831.4,758.1 L832.2,758.2 L833.0,758.2 L833.7,758.3 L834.5,758.4 L835.3,758.5 L836.1,758.5 L836.9,758.6 L837.6,758.6 L838.4,758.7 L839.2,758.8 L840.0,758.8 L840.8,758.9 L841.5,759.0 L842.3,759.0 L843.1,759.1 L843.9,759.1 L844.7,759.2 L845.4,759.2 L846.2,759.3 L847.0,759.3 L847.8,759.4 L848.6,759.4 L849.3,759.5 L850.1,759.5 L850.9,759.6 L851.7,759.6 L852.5,759.7 L853.2,759.7 L854.0,759.7 L854.8,759.8 L855.6,759.8 L856.4,759.9 L857.1,759.9 L857.9,759.9 L858.7,760.0 L859.5,760.0 L860.3,760.1 L861.0,760.1 L861.8,760.1 L862.6,760.2 L863.4,760.2 L864.1,760.2 L864.9,760.3 L865.7,760.3 L866.5,760.3 L867.3,760.3 L868.0,760.4 L868.8,760.4 L869.6,760.4 L870.4,760.5 L871.2,760.5 L871.9,760.5 L872.7,760.5 L873.5,760.6 L874.3,760.6 L875.1,760.6 L875.8,760.6 L876.6,760.7 L877.4,760.7 L878.2,760.7 L879.0,760.7 L879.7,760.7 L880.5,760.8 L881.3,760.8 L882.1,760.8 L882.9,760.8 L883.6,760.8 L884.4,760.9 L885.2,760.9 L886.0,760.9 L886.8,760.9 L887.5,760.9 L888.3,760.9 L889.1,761.0 L889.9,761.0 L890.7,761.0 L891.4,761.0 L892.2,761.0 L893.0,761.0 L893.8,761.0 L894.6,761.1 L895.3,761.1 L896.1,761.1 L896.9,761.1 L897.7,761.1 L898.5,761.1 L899.2,761.1 L900.0,761.1 L900.8,761.2 L901.6,761.2 L902.4,761.2 L903.1,761.2 L903.9,761.2 L904.7,761.2 L905.5,761.2 L906.3,761.2 L907.0,761.2 L907.8,761.2 L908.6,761.3 L909.4,761.3 L910.2,761.3 L910.9,761.3 L911.7,761.3 L912.5,761.3 L913.3,761.3 L914.1,761.3 L914.8,761.3 L915.6,761.3 L916.4,761.3 L917.2,761.3 L918.0,761.3 L918.7,761.4 L919.5,761.4 L920.3,761.4 L921.1,761.4 L921.9,761.4 L922.6,761.4 L923.4,761.4 L924.2,761.4 L925.0,761.4 L925.8,761.4 L926.5,761.4 L927.3,761.4 L928.1,761.4 L928.9,761.4 L929.7,761.4 L930.4,761.4 L931.2,761.4 L932.0,761.4 L932.8,761.4 L933.5,761.5 L934.3,761.5 L935.1,761.5 L935.9,761.5 L936.7,761.5 L937.4,761.5 L938.2,761.5 L939.0,761.5 L939.8,761.5 L940.6,761.5 L941.3,761.5 L942.1,761.5 L942.9,761.5 L943.7,761.5 L944.5,761.5 L945.2,761.5 L946.0,761.5 L946.8,761.5 L947.6,761.5 L948.4,761.5 L949.1,761.5 L949.9,761.5 L950.7,761.5 L951.5,761.5 L952.3,761.5 L953.0,761.5 L953.8,761.5 L954.6,761.5 L955.4,761.5 L956.2,761.5 L956.9,761.5 L957.7,761.5 L958.5,761.5 L959.3,761.5 L960.1,761.5 L960.8,761.5 L961.6,761.5 L962.4,761.5 L963.2,761.5 L964.0,761.6 L964.7,761.6 L965.5,761.6 L966.3,761.6 L967.1,761.6 L967.9,761.6 L968.6,761.6 L969.4,761.6 L970.2,761.6 L971.0,761.6 L971.8,761.6 L972.5,761.6 L973.3,761.6 L974.1,761.6 L974.9,761.6 L975.7,761.6 L976.4,761.6 L977.2,761.6 L978.0,761.6 L978.8,761.6 L979.6,761.6 L980.3,761.6 L981.1,761.6 L981.9,761.6 L982.7,761.6 L983.5,761.6 L984.2,761.6 L985.0,761.6 L985.8,761.6 L986.6,761.6 L987.4,761.6 L988.1,761.6 L988.9,761.6 L989.7,761.6 L990.5,761.6 L991.3,761.6 L992.0,761.6 L992.8,761.6 L993.6,761.6 L994.4,761.6 L995.2,761.6 L995.9,761.6 L996.7,761.6 L997.5,761.6 L998.3,761.6 L999.0,761.6 L999.8,761.6 L1000.6,761.6 L1001.4,761.6 L1002.2,761.6 L1002.9,761.6 L1003.7,761.6 L1004.5,761.6 L1005.3,761.6 L1006.1,761.6 L1006.8,761.6 L1007.6,761.6 L1008.4,761.6 L1009.2,761.6 L1010.0,761.6 L1010.7,761.6 L1011.5,761.6 L1012.3,761.6 L1013.1,761.6 L1013.9,761.6 L1014.6,761.6 L1015.4,761.6 L1016.2,761.6 L1017.0,761.6 L1017.8,761.6 L1018.5,761.6 L1019.3,761.6 L1020.1,761.6 L1020.9,761.6 L1021.7,761.6 L1022.4,761.6 L1023.2,761.6 L1024.0,761.6 L1024.8,761.6 L1025.6,761.6 L1026.3,761.6 L1027.1,761.6 L1027.9,761.6 L1028.7,761.6 L1029.5,761.6 L1030.2,761.6 L1031.0,761.6" fill="none" stroke="#808080" stroke-width="5"/>
</g>
<line x1="130.6" y1="739.7" x2="163.8" y2="739.7" stroke="#000" stroke-width="3.4"/>
<circle cx="147.1" cy="739.7" r="12.9" fill="#8b4513" stroke="#000" stroke-width="1.6"/>
<circle cx="317.4" cy="435.3" r="12.9" fill="#ffd700" stroke="#000" stroke-width="1.6"/>
<circle cx="563.0" cy="361.5" r="12.9" fill="#008000" stroke="#000" stroke-width="1.6"/>
<line x1="709.3" y1="718.9" x2="741.1" y2="718.9" stroke="#000" stroke-width="3.4"/>
<circle cx="725.0" cy="718.9" r="12.9" fill="#ff0000" stroke="#000" stroke-width="1.6"/>
<line x1="898.0" y1="761.4" x2="954.3" y2="761.4" stroke="#000" stroke-width="4"/>
<circle cx="926.1" cy="761.4" r="12.9" fill="#c48b8b" stroke="#000" stroke-width="1.6"/>
<path d="M95.3,0.7 H1031 V797.8 H95.3 Z" fill="none" stroke="#2a2a2a" stroke-width="1.7"/>
<line x1="95.3" y1="761.6" x2="108.8" y2="761.6" stroke="#2a2a2a" stroke-width="1.6"/>
<line x1="95.3" y1="627.6" x2="108.8" y2="627.6" stroke="#2a2a2a" stroke-width="1.6"/>
<line x1="95.3" y1="493.7" x2="108.8" y2="493.7" stroke="#2a2a2a" stroke-width="1.6"/>
<line x1="95.3" y1="359.7" x2="108.8" y2="359.7" stroke="#2a2a2a" stroke-width="1.6"/>
<line x1="95.3" y1="225.8" x2="108.8" y2="225.8" stroke="#2a2a2a" stroke-width="1.6"/>
<line x1="95.3" y1="91.8" x2="108.8" y2="91.8" stroke="#2a2a2a" stroke-width="1.6"/>
<line x1="212.3" y1="797.7" x2="212.3" y2="784.2" stroke="#2a2a2a" stroke-width="1.6"/>
<line x1="329.2" y1="797.7" x2="329.2" y2="784.2" stroke="#2a2a2a" stroke-width="1.6"/>
<line x1="446.2" y1="797.7" x2="446.2" y2="784.2" stroke="#2a2a2a" stroke-width="1.6"/>
<line x1="563.2" y1="797.7" x2="563.2" y2="784.2" stroke="#2a2a2a" stroke-width="1.6"/>
<line x1="680.1" y1="797.7" x2="680.1" y2="784.2" stroke="#2a2a2a" stroke-width="1.6"/>
<line x1="797.1" y1="797.7" x2="797.1" y2="784.2" stroke="#2a2a2a" stroke-width="1.6"/>
<line x1="914.1" y1="797.7" x2="914.1" y2="784.2" stroke="#2a2a2a" stroke-width="1.6"/>
<rect x="636.6" y="28.9" width="364.2" height="364" fill="#fff"/>
<circle cx="684" cy="370.3" r="7.6" fill="#8b4513"/>
<circle cx="749.4" cy="300.2" r="34.6" fill="#ffd700"/>
<circle cx="835.3" cy="199.9" r="38.5" fill="#008000"/>
<line x1="899" y1="136" x2="938.7" y2="136" stroke="#e05558" stroke-width="3" stroke-dasharray="5,30"/>
<circle cx="918.9" cy="135.9" r="11.2" fill="#e05558"/>
<line x1="908.8" y1="99.3" x2="953.6" y2="99.3" stroke="#e05558" stroke-width="4"/>
<line x1="931.2" y1="94.3" x2="931.2" y2="104.1" stroke="#e05558" stroke-width="3.4"/>
<line x1="896.2" y1="108.7" x2="945.0" y2="108.7" stroke="#e05558" stroke-width="3.4"/>
<line x1="920.3" y1="100.6" x2="920.3" y2="116.0" stroke="#e05558" stroke-width="3.4"/>
<line x1="898.5" y1="112.2" x2="948.4" y2="112.2" stroke="#e05558" stroke-width="3.4"/>
<line x1="923.2" y1="105.4" x2="923.2" y2="118.6" stroke="#e05558" stroke-width="3.4"/>
<line x1="850.3" y1="160.3" x2="890.5" y2="160.3" stroke="#e05558" stroke-width="4"/>
<line x1="870.0" y1="155.7" x2="870.0" y2="166.0" stroke="#e05558" stroke-width="3.4"/>
<line x1="870.0" y1="159.7" x2="931.8" y2="159.7" stroke="#e05558" stroke-width="4"/>
<line x1="901.6" y1="151.7" x2="901.6" y2="167.8" stroke="#e05558" stroke-width="3.4"/>
<line x1="764.2" y1="41.5" x2="833.3" y2="41.5" stroke="#f5aa00" stroke-width="3.6"/>
<line x1="798.6" y1="34.0" x2="798.6" y2="48.9" stroke="#f5aa00" stroke-width="3.4"/>
<line x1="907.4" y1="47.0" x2="953.5" y2="47.0" stroke="#bc8a8a" stroke-width="3.5"/>
<line x1="930.5" y1="41.9" x2="930.5" y2="52.5" stroke="#bc8a8a" stroke-width="3.4"/>
<circle cx="931.2" cy="99.3" r="2.7" fill="#fff" stroke="#e05558" stroke-width="1"/>
<circle cx="920.3" cy="108.7" r="2.7" fill="#fff" stroke="#e05558" stroke-width="1"/>
<circle cx="923.2" cy="112.2" r="2.7" fill="#fff" stroke="#e05558" stroke-width="1"/>
<circle cx="870.0" cy="160.3" r="2.7" fill="#fff" stroke="#e05558" stroke-width="1"/>
<circle cx="901.6" cy="159.7" r="2.7" fill="#fff" stroke="#e05558" stroke-width="1"/>
<circle cx="798.6" cy="41.5" r="2.7" fill="#fff" stroke="#f5aa00" stroke-width="1"/>
<circle cx="930.5" cy="47.0" r="2.7" fill="#fff" stroke="#bc8a8a" stroke-width="1"/>
<rect x="636.6" y="28.9" width="364.2" height="364" fill="none" stroke="#111" stroke-width="1.3"/>
<line x1="636.6" y1="48.0" x2="646.3" y2="48.0" stroke="#111" stroke-width="1.3"/>
<line x1="636.6" y1="124.8" x2="646.3" y2="124.8" stroke="#111" stroke-width="1.3"/>
<line x1="636.6" y1="201.6" x2="646.3" y2="201.6" stroke="#111" stroke-width="1.3"/>
<line x1="636.6" y1="278.4" x2="646.3" y2="278.4" stroke="#111" stroke-width="1.3"/>
<line x1="636.6" y1="355.2" x2="646.3" y2="355.2" stroke="#111" stroke-width="1.3"/>
<line x1="727.5" y1="392.9" x2="727.5" y2="383.2" stroke="#111" stroke-width="1.3"/>
<line x1="818.4" y1="392.9" x2="818.4" y2="383.2" stroke="#111" stroke-width="1.3"/>
<line x1="909.3" y1="392.9" x2="909.3" y2="383.2" stroke="#111" stroke-width="1.3"/>
<text x="151.50" y="71.00" font-size="28" fill="#222" textLength="191.41" lengthAdjust="spacingAndGlyphs">Mean Gaussian</text>
<text x="150.90" y="100.80" font-size="27.6" fill="#222" textLength="237.55" lengthAdjust="spacingAndGlyphs"><tspan font-family="Liberation Serif" font-style="italic">μ</tspan> = −0.475 ± 0.005</text>
<text x="151.60" y="131.00" font-size="27.6" fill="#222" textLength="191.95" lengthAdjust="spacingAndGlyphs"><tspan font-family="Liberation Serif" font-style="italic">σ</tspan> = 0.50 ± 0.03</text>
<text x="434.80" y="34.00" font-size="27.6" fill="#222" textLength="31.80" lengthAdjust="spacingAndGlyphs">2<tspan font-family="Liberation Serif" font-style="italic">σ</tspan></text>
<text x="437.80" y="83.70" font-size="27.4" fill="#222" textLength="26.97" lengthAdjust="spacingAndGlyphs">1<tspan font-family="Liberation Serif" font-style="italic">σ</tspan></text>
<text x="416.90" y="130.50" font-size="27.2" fill="#222" textLength="68.87" lengthAdjust="spacingAndGlyphs">Mean</text>
<text x="169.80" y="745.80" font-size="27.3" fill="#222" textLength="104.12" lengthAdjust="spacingAndGlyphs">Mercury</text>
<text x="342.30" y="441.60" font-size="27.3" fill="#222" textLength="76.72" lengthAdjust="spacingAndGlyphs">Venus</text>
<text x="481.20" y="367.90" font-size="27.6" fill="#222" textLength="64.57" lengthAdjust="spacingAndGlyphs">Earth</text>
<text x="748.30" y="724.80" font-size="27.6" fill="#222" textLength="61.12" lengthAdjust="spacingAndGlyphs">Mars</text>
<text x="950.10" y="748.80" font-size="27.6" fill="#222" textLength="67.45" lengthAdjust="spacingAndGlyphs">Vesta</text>
<text x="387.30" y="866.70" font-size="27.7" fill="#222" textLength="349.70" lengthAdjust="spacingAndGlyphs">Isotopic Euclidean distance</text>
<text transform="translate(26.70,490.90) rotate(-90)" x="-2.00" y="0" font-size="27.4" fill="#222" textLength="120.58" lengthAdjust="spacingAndGlyphs">Mass (×10</text>
<text transform="translate(14.20,372.00) rotate(-90)" x="-1.00" y="0" font-size="18.3" fill="#222" textLength="21.54" lengthAdjust="spacingAndGlyphs">25</text>
<text transform="translate(26.70,341.70) rotate(-90)" x="-2.00" y="0" font-size="27.4" fill="#222" textLength="40.53" lengthAdjust="spacingAndGlyphs">kg)</text>
<text x="67.30" y="769.00" font-size="23.4" fill="#222" textLength="15.19" lengthAdjust="spacingAndGlyphs">0</text>
<text x="47.80" y="635.04" font-size="23.4" fill="#222" textLength="35.05" lengthAdjust="spacingAndGlyphs">0.2</text>
<text x="46.90" y="501.08" font-size="23.4" fill="#222" textLength="35.68" lengthAdjust="spacingAndGlyphs">0.4</text>
<text x="47.40" y="367.12" font-size="23.4" fill="#222" textLength="35.16" lengthAdjust="spacingAndGlyphs">0.6</text>
<text x="47.40" y="233.16" font-size="23.4" fill="#222" textLength="35.16" lengthAdjust="spacingAndGlyphs">0.8</text>
<text x="50.50" y="99.20" font-size="23.4" fill="#222" textLength="31.67" lengthAdjust="spacingAndGlyphs">1.0</text>
<text x="71.15" y="826.80" font-size="23.4" fill="#222" textLength="46.92" lengthAdjust="spacingAndGlyphs">−2.0</text>
<text x="191.31" y="826.80" font-size="23.4" fill="#222" textLength="40.42" lengthAdjust="spacingAndGlyphs">−1.5</text>
<text x="306.73" y="826.80" font-size="23.4" fill="#222" textLength="43.89" lengthAdjust="spacingAndGlyphs">−1.0</text>
<text x="421.60" y="826.80" font-size="23.4" fill="#222" textLength="47.66" lengthAdjust="spacingAndGlyphs">−0.5</text>
<text x="554.86" y="826.80" font-size="23.4" fill="#222" textLength="14.95" lengthAdjust="spacingAndGlyphs">0</text>
<text x="661.67" y="826.80" font-size="23.4" fill="#222" textLength="35.16" lengthAdjust="spacingAndGlyphs">0.5</text>
<text x="778.74" y="826.80" font-size="23.4" fill="#222" textLength="34.60" lengthAdjust="spacingAndGlyphs">1.0</text>
<text x="898.25" y="826.80" font-size="23.4" fill="#222" textLength="28.85" lengthAdjust="spacingAndGlyphs">1.5</text>
<text x="1013.12" y="826.80" font-size="23.4" fill="#222" textLength="33.80" lengthAdjust="spacingAndGlyphs">2.0</text>
<text x="610.80" y="55.00" font-size="23.4" fill="#222" textLength="14.20" lengthAdjust="spacingAndGlyphs">2</text>
<text x="608.90" y="131.80" font-size="23.4" fill="#222" textLength="16.21" lengthAdjust="spacingAndGlyphs">0</text>
<text x="599.60" y="208.60" font-size="23.4" fill="#222" textLength="25.18" lengthAdjust="spacingAndGlyphs">−2</text>
<text x="598.20" y="285.40" font-size="23.4" fill="#222" textLength="26.47" lengthAdjust="spacingAndGlyphs">−4</text>
<text x="598.20" y="362.20" font-size="23.4" fill="#222" textLength="26.47" lengthAdjust="spacingAndGlyphs">−6</text>
<text x="613.45" y="421.80" font-size="23.4" fill="#222" textLength="45.04" lengthAdjust="spacingAndGlyphs">−3.5</text>
<text x="702.95" y="421.80" font-size="23.4" fill="#222" textLength="47.57" lengthAdjust="spacingAndGlyphs">−3.0</text>
<text x="795.40" y="421.80" font-size="23.4" fill="#222" textLength="45.14" lengthAdjust="spacingAndGlyphs">−2.5</text>
<text x="885.75" y="421.80" font-size="23.4" fill="#222" textLength="46.50" lengthAdjust="spacingAndGlyphs">−2.0</text>
<text x="979.35" y="421.80" font-size="23.4" fill="#222" textLength="40.00" lengthAdjust="spacingAndGlyphs">−1.5</text>
<text x="794.90" y="461.50" font-size="27.4" fill="#222" textLength="48.16" lengthAdjust="spacingAndGlyphs">LF 1</text>
<text transform="translate(577.90,234.50) rotate(-90)" x="-2.00" y="0" font-size="27.5" fill="#222" textLength="52.08" lengthAdjust="spacingAndGlyphs">LF 2</text>
<text x="761.70" y="68.80" font-size="19.6" fill="#222" textLength="72.76" lengthAdjust="spacingAndGlyphs">Ureilites</text>
<text x="878.70" y="68.00" font-size="19.2" fill="#222" textLength="104.73" lengthAdjust="spacingAndGlyphs">Vesta group</text>
<text x="934.60" y="92.80" font-size="19.0" fill="#222" textLength="14.45" lengthAdjust="spacingAndGlyphs">H</text>
<text x="884.70" y="104.90" font-size="19.0" fill="#222" textLength="18.83" lengthAdjust="spacingAndGlyphs">LL</text>
<text x="951.40" y="120.70" font-size="19.1" fill="#222" textLength="10.23" lengthAdjust="spacingAndGlyphs">L</text>
<text x="862.70" y="132.70" font-size="19.0" fill="#222" textLength="42.46" lengthAdjust="spacingAndGlyphs">Mars</text>
<text x="872.40" y="181.50" font-size="18.5" fill="#222" textLength="20.76" lengthAdjust="spacingAndGlyphs">EL</text>
<text x="904.60" y="180.70" font-size="18.7" fill="#222" textLength="23.16" lengthAdjust="spacingAndGlyphs">EH</text>
<text x="812.10" y="205.80" font-size="19.1" fill="#222" textLength="46.31" lengthAdjust="spacingAndGlyphs">Earth</text>
<text x="723.20" y="306.00" font-size="19.6" fill="#222" textLength="53.78" lengthAdjust="spacingAndGlyphs">Venus</text>
<text x="777.40" y="250.10" font-size="19.7" fill="#222" textLength="29.67" lengthAdjust="spacingAndGlyphs">ISS</text>
<text x="647.20" y="360.20" font-size="18.9" fill="#222" textLength="72.06" lengthAdjust="spacingAndGlyphs">Mercury</text>
</svg>
</body></html>
